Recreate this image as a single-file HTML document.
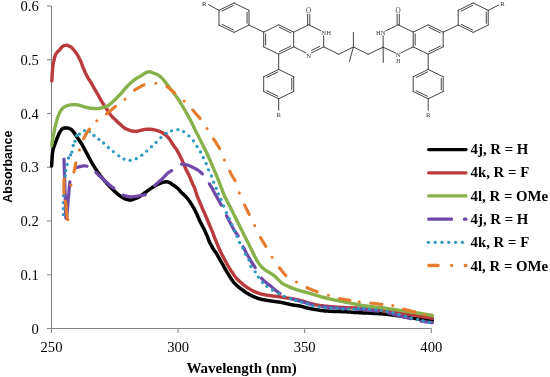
<!DOCTYPE html>
<html><head><meta charset="utf-8"><style>html,body{margin:0;padding:0;background:#fff;}svg{display:block;will-change:transform;}</style></head>
<body><svg width="550" height="377" viewBox="0 0 550 377"><g stroke="#868686" stroke-width="1.1"><line x1="51.5" y1="6" x2="51.5" y2="328.5"/><line x1="51.5" y1="328.5" x2="431.5" y2="328.5"/><line x1="47" y1="328.50" x2="51.5" y2="328.50"/><line x1="47" y1="274.75" x2="51.5" y2="274.75"/><line x1="47" y1="221.00" x2="51.5" y2="221.00"/><line x1="47" y1="167.25" x2="51.5" y2="167.25"/><line x1="47" y1="113.50" x2="51.5" y2="113.50"/><line x1="47" y1="59.75" x2="51.5" y2="59.75"/><line x1="47" y1="6.00" x2="51.5" y2="6.00"/><line x1="51.50" y1="328.5" x2="51.50" y2="333"/><line x1="178.10" y1="328.5" x2="178.10" y2="333"/><line x1="304.70" y1="328.5" x2="304.70" y2="333"/><line x1="431.30" y1="328.5" x2="431.30" y2="333"/></g><path d="M51.6,166.0 L51.6,165.3 L51.7,164.5 L51.8,163.5 L51.8,162.4 L51.9,161.2 L52.0,159.9 L52.0,158.6 L52.1,157.3 L52.2,156.1 L52.3,154.9 L52.4,153.9 L52.5,153.0 L52.6,152.3 L52.7,151.6 L52.8,151.0 L52.9,150.4 L53.0,150.0 L53.1,149.5 L53.3,149.1 L53.4,148.7 L53.5,148.3 L53.6,147.9 L53.8,147.4 L53.9,147.0 L54.0,146.5 L54.2,146.1 L54.3,145.7 L54.5,145.3 L54.6,144.9 L54.8,144.5 L54.9,144.1 L55.1,143.7 L55.2,143.3 L55.4,142.9 L55.5,142.4 L55.7,142.0 L55.9,141.6 L56.0,141.1 L56.2,140.6 L56.4,140.2 L56.6,139.7 L56.7,139.2 L56.9,138.7 L57.1,138.3 L57.3,137.8 L57.5,137.4 L57.6,136.9 L57.8,136.5 L58.0,136.1 L58.1,135.7 L58.3,135.3 L58.5,134.9 L58.6,134.6 L58.8,134.2 L59.0,133.8 L59.1,133.5 L59.3,133.2 L59.5,132.8 L59.6,132.5 L59.8,132.2 L60.0,131.9 L60.2,131.6 L60.3,131.3 L60.5,131.0 L60.7,130.7 L60.9,130.4 L61.1,130.2 L61.3,129.9 L61.4,129.7 L61.6,129.5 L61.8,129.3 L62.0,129.1 L62.2,128.9 L62.4,128.8 L62.5,128.7 L62.7,128.6 L62.9,128.5 L63.1,128.4 L63.3,128.4 L63.5,128.3 L63.6,128.2 L63.8,128.2 L64.0,128.1 L64.2,128.1 L64.4,128.1 L64.6,128.0 L64.8,128.0 L65.0,127.9 L65.1,127.9 L65.3,127.9 L65.5,127.9 L65.7,127.9 L65.9,127.9 L66.1,127.9 L66.3,127.9 L66.5,127.9 L66.7,127.9 L66.9,127.9 L67.1,128.0 L67.3,128.0 L67.5,128.0 L67.7,128.0 L67.9,128.1 L68.1,128.1 L68.3,128.2 L68.6,128.2 L68.8,128.3 L69.0,128.4 L69.2,128.5 L69.5,128.6 L69.7,128.7 L70.0,128.8 L70.2,128.9 L70.5,129.1 L70.7,129.2 L71.0,129.4 L71.2,129.5 L71.5,129.7 L71.7,129.8 L71.9,130.0 L72.1,130.2 L72.3,130.4 L72.5,130.6 L72.6,130.7 L72.8,131.0 L73.0,131.2 L73.1,131.4 L73.3,131.6 L73.4,131.8 L73.6,132.0 L73.7,132.3 L73.9,132.5 L74.1,132.7 L74.2,133.0 L74.4,133.2 L74.6,133.5 L74.8,133.7 L75.0,134.0 L75.1,134.2 L75.3,134.5 L75.5,134.7 L75.7,135.0 L75.8,135.3 L76.0,135.5 L76.2,135.7 L76.3,136.0 L76.5,136.2 L76.7,136.5 L76.8,136.7 L77.0,137.0 L77.1,137.2 L77.3,137.5 L77.4,137.7 L77.6,137.9 L77.7,138.2 L77.9,138.4 L78.1,138.6 L78.2,138.9 L78.4,139.1 L78.5,139.3 L78.7,139.5 L78.8,139.7 L79.0,139.9 L79.1,140.2 L79.3,140.4 L79.4,140.6 L79.6,140.8 L79.7,141.0 L79.8,141.2 L80.0,141.4 L80.1,141.6 L80.3,141.8 L80.4,142.0 L80.5,142.2 L80.7,142.3 L80.8,142.5 L81.0,142.7 L81.1,143.0 L81.3,143.2 L81.4,143.4 L81.5,143.6 L81.7,143.9 L81.8,144.2 L82.0,144.4 L82.1,144.7 L82.3,145.0 L82.5,145.3 L82.6,145.6 L82.8,145.9 L82.9,146.2 L83.1,146.4 L83.2,146.7 L83.3,147.0 L83.5,147.2 L83.6,147.5 L83.8,147.7 L83.9,148.0 L84.0,148.2 L84.2,148.5 L84.3,148.7 L84.5,149.0 L84.6,149.3 L84.7,149.5 L84.9,149.8 L85.1,150.1 L85.2,150.4 L85.4,150.7 L85.5,151.0 L85.7,151.3 L85.9,151.6 L86.1,151.9 L86.2,152.3 L86.4,152.6 L86.6,152.9 L86.7,153.2 L86.9,153.5 L87.1,153.8 L87.2,154.1 L87.4,154.4 L87.5,154.7 L87.7,155.0 L87.9,155.3 L88.0,155.6 L88.2,155.9 L88.3,156.2 L88.5,156.5 L88.6,156.8 L88.8,157.1 L89.0,157.4 L89.1,157.7 L89.3,158.0 L89.5,158.3 L89.6,158.6 L89.8,158.9 L90.0,159.2 L90.1,159.5 L90.3,159.8 L90.5,160.1 L90.6,160.4 L90.8,160.7 L91.0,161.0 L91.1,161.3 L91.3,161.6 L91.4,161.9 L91.6,162.2 L91.8,162.5 L91.9,162.8 L92.1,163.1 L92.2,163.3 L92.4,163.6 L92.5,163.9 L92.7,164.2 L92.9,164.5 L93.0,164.8 L93.2,165.0 L93.4,165.3 L93.5,165.6 L93.7,165.9 L93.9,166.1 L94.0,166.4 L94.2,166.7 L94.4,167.0 L94.5,167.2 L94.7,167.5 L94.9,167.8 L95.0,168.0 L95.2,168.3 L95.4,168.5 L95.5,168.8 L95.7,169.1 L95.8,169.3 L96.0,169.6 L96.2,169.8 L96.3,170.1 L96.5,170.3 L96.7,170.6 L96.9,170.9 L97.1,171.1 L97.2,171.4 L97.4,171.6 L97.6,171.9 L97.8,172.1 L98.0,172.4 L98.2,172.7 L98.4,172.9 L98.6,173.2 L98.8,173.5 L99.0,173.8 L99.2,174.1 L99.5,174.4 L99.7,174.7 L99.9,175.1 L100.2,175.4 L100.4,175.7 L100.7,176.1 L100.9,176.4 L101.2,176.8 L101.5,177.1 L101.7,177.5 L102.0,177.8 L102.3,178.1 L102.6,178.5 L102.9,178.8 L103.2,179.2 L103.5,179.5 L103.8,179.9 L104.1,180.2 L104.4,180.5 L104.7,180.9 L105.0,181.2 L105.2,181.5 L105.5,181.8 L105.8,182.1 L106.0,182.4 L106.3,182.6 L106.5,182.9 L106.7,183.2 L106.9,183.4 L107.2,183.7 L107.4,183.9 L107.6,184.2 L107.8,184.4 L108.1,184.7 L108.3,184.9 L108.5,185.1 L108.8,185.4 L109.0,185.6 L109.2,185.9 L109.4,186.1 L109.7,186.4 L109.9,186.6 L110.1,186.9 L110.3,187.1 L110.5,187.3 L110.8,187.6 L111.0,187.8 L111.2,188.0 L111.5,188.3 L111.7,188.5 L111.9,188.7 L112.2,188.9 L112.4,189.2 L112.6,189.4 L112.9,189.6 L113.1,189.8 L113.3,190.1 L113.6,190.3 L113.8,190.5 L114.0,190.7 L114.3,190.9 L114.5,191.2 L114.7,191.4 L114.9,191.6 L115.2,191.8 L115.4,192.0 L115.6,192.2 L115.8,192.4 L116.1,192.6 L116.3,192.8 L116.5,193.0 L116.7,193.2 L116.9,193.4 L117.1,193.5 L117.3,193.7 L117.6,193.9 L117.8,194.0 L118.0,194.2 L118.2,194.4 L118.4,194.5 L118.6,194.7 L118.8,194.8 L119.0,195.0 L119.2,195.2 L119.4,195.3 L119.6,195.5 L119.9,195.6 L120.1,195.8 L120.3,195.9 L120.5,196.1 L120.7,196.2 L120.9,196.4 L121.1,196.5 L121.3,196.7 L121.5,196.8 L121.7,196.9 L121.9,197.1 L122.0,197.2 L122.2,197.3 L122.4,197.4 L122.5,197.5 L122.7,197.6 L122.9,197.7 L123.0,197.8 L123.2,197.9 L123.3,198.0 L123.5,198.1 L123.7,198.2 L123.8,198.3 L124.0,198.4 L124.1,198.4 L124.3,198.5 L124.4,198.6 L124.6,198.7 L124.8,198.7 L124.9,198.8 L125.1,198.9 L125.3,198.9 L125.5,199.0 L125.7,199.1 L125.9,199.1 L126.2,199.2 L126.4,199.3 L126.7,199.4 L126.9,199.5 L127.2,199.5 L127.4,199.6 L127.7,199.7 L128.0,199.7 L128.2,199.8 L128.5,199.8 L128.8,199.8 L129.0,199.9 L129.3,199.9 L129.6,199.9 L129.9,199.9 L130.1,199.9 L130.4,199.9 L130.7,199.9 L131.0,199.9 L131.3,199.9 L131.5,199.8 L131.8,199.8 L132.1,199.7 L132.3,199.7 L132.6,199.6 L132.9,199.5 L133.1,199.4 L133.4,199.3 L133.7,199.2 L133.9,199.0 L134.2,198.9 L134.5,198.8 L134.7,198.7 L135.0,198.6 L135.3,198.5 L135.5,198.4 L135.8,198.3 L136.1,198.2 L136.3,198.2 L136.6,198.1 L136.9,198.0 L137.1,197.9 L137.4,197.8 L137.7,197.7 L137.9,197.5 L138.2,197.4 L138.5,197.3 L138.7,197.1 L139.0,196.9 L139.3,196.7 L139.6,196.6 L139.9,196.4 L140.1,196.2 L140.4,196.0 L140.7,195.8 L141.0,195.6 L141.2,195.4 L141.5,195.2 L141.8,195.0 L142.0,194.8 L142.3,194.7 L142.6,194.5 L142.8,194.3 L143.1,194.1 L143.3,193.9 L143.6,193.7 L143.8,193.5 L144.1,193.4 L144.3,193.2 L144.6,193.0 L144.8,192.8 L145.1,192.6 L145.3,192.5 L145.6,192.3 L145.8,192.1 L146.0,191.9 L146.3,191.7 L146.5,191.5 L146.7,191.4 L147.0,191.2 L147.2,191.0 L147.5,190.8 L147.8,190.6 L148.0,190.4 L148.3,190.2 L148.6,190.0 L148.9,189.8 L149.2,189.6 L149.5,189.4 L149.8,189.2 L150.1,189.0 L150.4,188.8 L150.6,188.6 L150.9,188.4 L151.2,188.2 L151.4,188.1 L151.6,187.9 L151.9,187.8 L152.1,187.6 L152.3,187.5 L152.6,187.3 L152.8,187.2 L153.0,187.0 L153.3,186.9 L153.5,186.8 L153.8,186.6 L154.1,186.4 L154.4,186.3 L154.6,186.1 L154.9,185.9 L155.2,185.8 L155.5,185.6 L155.8,185.4 L156.1,185.2 L156.4,185.1 L156.7,184.9 L157.0,184.7 L157.3,184.6 L157.6,184.5 L157.9,184.3 L158.1,184.2 L158.4,184.1 L158.7,184.0 L158.9,183.8 L159.2,183.7 L159.4,183.6 L159.7,183.5 L160.0,183.4 L160.2,183.3 L160.5,183.2 L160.8,183.1 L161.0,183.0 L161.3,182.9 L161.6,182.8 L161.8,182.7 L162.1,182.6 L162.4,182.6 L162.6,182.5 L162.9,182.4 L163.2,182.3 L163.4,182.3 L163.7,182.2 L164.0,182.1 L164.2,182.1 L164.5,182.0 L164.8,182.0 L165.1,181.9 L165.4,181.9 L165.6,181.8 L165.9,181.8 L166.2,181.8 L166.5,181.8 L166.7,181.8 L167.0,181.8 L167.3,181.8 L167.5,181.9 L167.8,181.9 L168.0,182.0 L168.3,182.1 L168.6,182.2 L168.8,182.3 L169.0,182.4 L169.3,182.5 L169.5,182.6 L169.8,182.7 L170.0,182.8 L170.2,182.9 L170.4,183.1 L170.7,183.2 L170.9,183.3 L171.1,183.5 L171.3,183.7 L171.5,183.8 L171.7,184.0 L171.9,184.1 L172.1,184.3 L172.3,184.4 L172.5,184.6 L172.7,184.7 L172.9,184.9 L173.1,185.0 L173.4,185.2 L173.6,185.3 L173.8,185.4 L174.0,185.6 L174.3,185.7 L174.5,185.9 L174.7,186.0 L175.0,186.2 L175.2,186.4 L175.4,186.6 L175.7,186.8 L176.0,187.0 L176.2,187.2 L176.5,187.4 L176.8,187.6 L177.0,187.9 L177.3,188.1 L177.6,188.3 L177.9,188.6 L178.1,188.8 L178.4,189.1 L178.7,189.4 L178.9,189.6 L179.2,189.9 L179.4,190.2 L179.7,190.5 L179.9,190.8 L180.2,191.1 L180.5,191.4 L180.7,191.7 L181.0,192.0 L181.2,192.3 L181.5,192.6 L181.8,192.9 L182.0,193.1 L182.3,193.4 L182.6,193.6 L182.8,193.8 L183.1,194.1 L183.4,194.3 L183.7,194.5 L183.9,194.8 L184.2,195.0 L184.4,195.3 L184.7,195.5 L184.9,195.7 L185.2,196.0 L185.4,196.2 L185.7,196.5 L185.9,196.7 L186.1,196.9 L186.4,197.2 L186.6,197.4 L186.8,197.7 L187.0,197.9 L187.3,198.2 L187.5,198.5 L187.7,198.8 L188.0,199.1 L188.2,199.4 L188.4,199.6 L188.6,199.9 L188.8,200.2 L189.1,200.6 L189.3,200.9 L189.5,201.2 L189.8,201.6 L190.0,202.0 L190.3,202.4 L190.6,202.8 L190.9,203.3 L191.2,203.8 L191.5,204.3 L191.8,204.8 L192.2,205.4 L192.5,205.9 L192.8,206.5 L193.2,207.1 L193.5,207.6 L193.8,208.2 L194.1,208.7 L194.4,209.2 L194.7,209.8 L195.0,210.3 L195.2,210.9 L195.5,211.4 L195.8,212.0 L196.1,212.5 L196.3,213.1 L196.6,213.6 L196.8,214.1 L197.1,214.6 L197.3,215.1 L197.5,215.6 L197.7,216.0 L197.9,216.5 L198.1,217.0 L198.3,217.4 L198.5,217.8 L198.6,218.3 L198.8,218.7 L199.0,219.1 L199.1,219.5 L199.3,219.9 L199.5,220.3 L199.7,220.7 L199.9,221.1 L200.0,221.4 L200.2,221.8 L200.4,222.1 L200.6,222.4 L200.7,222.8 L200.9,223.1 L201.1,223.5 L201.3,223.8 L201.5,224.2 L201.7,224.6 L201.9,225.0 L202.1,225.5 L202.4,225.9 L202.6,226.3 L202.9,226.8 L203.1,227.3 L203.4,227.8 L203.6,228.2 L203.9,228.7 L204.1,229.2 L204.4,229.7 L204.6,230.2 L204.8,230.7 L205.1,231.2 L205.3,231.7 L205.5,232.2 L205.8,232.8 L206.0,233.3 L206.2,233.8 L206.4,234.4 L206.7,234.9 L206.9,235.4 L207.1,235.9 L207.3,236.4 L207.5,236.9 L207.7,237.4 L207.9,237.8 L208.0,238.3 L208.2,238.7 L208.4,239.2 L208.5,239.6 L208.7,240.1 L208.9,240.6 L209.1,241.0 L209.3,241.5 L209.5,242.0 L209.7,242.5 L210.0,243.1 L210.3,243.6 L210.6,244.2 L210.9,244.7 L211.2,245.3 L211.5,245.9 L211.8,246.4 L212.1,247.0 L212.4,247.5 L212.7,248.0 L213.0,248.5 L213.3,249.0 L213.6,249.4 L213.8,249.8 L214.1,250.2 L214.4,250.6 L214.7,251.0 L214.9,251.3 L215.2,251.7 L215.5,252.1 L215.8,252.5 L216.0,252.9 L216.3,253.3 L216.6,253.7 L216.9,254.2 L217.1,254.7 L217.4,255.2 L217.7,255.6 L218.0,256.1 L218.2,256.6 L218.5,257.1 L218.8,257.6 L219.1,258.1 L219.3,258.5 L219.6,259.0 L219.9,259.5 L220.1,259.9 L220.4,260.3 L220.6,260.8 L220.9,261.2 L221.1,261.6 L221.4,262.1 L221.6,262.5 L221.9,262.9 L222.1,263.3 L222.4,263.8 L222.6,264.2 L222.8,264.6 L223.1,265.1 L223.3,265.5 L223.5,265.9 L223.8,266.4 L224.0,266.8 L224.2,267.3 L224.5,267.7 L224.7,268.1 L224.9,268.6 L225.2,269.0 L225.4,269.4 L225.6,269.8 L225.9,270.2 L226.1,270.6 L226.4,271.0 L226.6,271.4 L226.8,271.8 L227.1,272.2 L227.3,272.6 L227.6,273.0 L227.8,273.4 L228.1,273.8 L228.3,274.2 L228.5,274.6 L228.8,275.0 L229.0,275.4 L229.3,275.8 L229.5,276.2 L229.8,276.6 L230.0,277.0 L230.3,277.4 L230.5,277.8 L230.8,278.2 L231.0,278.6 L231.3,279.0 L231.6,279.4 L231.8,279.7 L232.1,280.1 L232.3,280.5 L232.6,280.8 L232.9,281.2 L233.1,281.5 L233.4,281.9 L233.7,282.2 L233.9,282.5 L234.2,282.9 L234.5,283.2 L234.8,283.5 L235.1,283.8 L235.4,284.1 L235.7,284.4 L236.0,284.7 L236.3,285.0 L236.6,285.3 L236.9,285.6 L237.2,285.9 L237.5,286.1 L237.9,286.4 L238.2,286.7 L238.5,287.0 L238.9,287.3 L239.2,287.5 L239.6,287.8 L240.0,288.1 L240.3,288.4 L240.7,288.7 L241.1,288.9 L241.4,289.2 L241.8,289.5 L242.1,289.7 L242.5,290.0 L242.9,290.3 L243.2,290.5 L243.6,290.8 L243.9,291.0 L244.3,291.3 L244.6,291.6 L244.9,291.8 L245.3,292.1 L245.6,292.3 L246.0,292.5 L246.3,292.8 L246.7,293.0 L247.1,293.2 L247.4,293.4 L247.8,293.6 L248.1,293.8 L248.5,294.0 L248.8,294.2 L249.2,294.4 L249.6,294.6 L249.9,294.8 L250.3,294.9 L250.6,295.1 L251.0,295.3 L251.4,295.5 L251.7,295.7 L252.1,295.8 L252.4,296.0 L252.8,296.2 L253.1,296.4 L253.4,296.5 L253.8,296.7 L254.1,296.8 L254.5,297.0 L254.8,297.2 L255.2,297.3 L255.6,297.4 L255.9,297.6 L256.3,297.7 L256.6,297.9 L257.0,298.0 L257.4,298.1 L257.7,298.2 L258.1,298.4 L258.4,298.5 L258.8,298.6 L259.1,298.7 L259.5,298.8 L259.9,298.9 L260.2,299.0 L260.6,299.1 L260.9,299.2 L261.3,299.3 L261.6,299.4 L261.9,299.4 L262.3,299.5 L262.6,299.6 L263.0,299.7 L263.3,299.7 L263.7,299.8 L264.1,299.9 L264.4,299.9 L264.8,300.0 L265.1,300.1 L265.5,300.1 L265.9,300.2 L266.2,300.2 L266.6,300.3 L266.9,300.3 L267.3,300.4 L267.6,300.4 L268.0,300.5 L268.3,300.6 L268.6,300.6 L268.9,300.6 L269.2,300.7 L269.5,300.7 L269.8,300.8 L270.1,300.8 L270.4,300.9 L270.8,300.9 L271.2,301.0 L271.6,301.0 L272.1,301.1 L272.7,301.2 L273.3,301.3 L274.0,301.4 L274.7,301.5 L275.5,301.6 L276.3,301.7 L277.1,301.8 L277.8,301.9 L278.6,302.0 L279.3,302.1 L280.0,302.2 L280.6,302.3 L281.2,302.4 L281.7,302.5 L282.2,302.6 L282.6,302.7 L283.1,302.8 L283.5,302.9 L283.9,303.0 L284.3,303.1 L284.7,303.2 L285.1,303.3 L285.6,303.4 L286.0,303.5 L286.4,303.6 L286.9,303.7 L287.3,303.8 L287.8,303.9 L288.2,304.0 L288.6,304.1 L289.1,304.2 L289.5,304.3 L289.9,304.4 L290.4,304.5 L290.8,304.6 L291.2,304.7 L291.6,304.8 L292.0,304.9 L292.4,304.9 L292.9,305.0 L293.3,305.1 L293.7,305.1 L294.1,305.2 L294.5,305.3 L294.9,305.3 L295.3,305.4 L295.6,305.4 L296.0,305.5 L296.3,305.5 L296.7,305.6 L297.0,305.6 L297.2,305.6 L297.5,305.6 L297.8,305.7 L298.1,305.7 L298.4,305.7 L298.7,305.8 L299.1,305.8 L299.5,305.9 L300.0,306.0 L300.5,306.1 L301.1,306.3 L301.8,306.4 L302.4,306.6 L303.1,306.8 L303.9,307.0 L304.6,307.3 L305.3,307.5 L306.1,307.7 L306.8,307.9 L307.5,308.0 L308.2,308.2 L308.9,308.3 L309.5,308.5 L310.2,308.6 L310.8,308.7 L311.4,308.9 L312.1,309.0 L312.7,309.1 L313.3,309.2 L314.0,309.3 L314.6,309.4 L315.2,309.5 L315.9,309.6 L316.6,309.7 L317.2,309.8 L317.9,309.9 L318.5,310.0 L319.2,310.1 L319.9,310.3 L320.6,310.4 L321.2,310.5 L321.9,310.6 L322.6,310.6 L323.2,310.7 L323.9,310.8 L324.6,310.9 L325.2,310.9 L325.9,311.0 L326.5,311.0 L327.2,311.1 L327.8,311.1 L328.5,311.1 L329.2,311.2 L329.8,311.2 L330.5,311.2 L331.1,311.3 L331.8,311.3 L332.5,311.3 L333.1,311.4 L333.8,311.4 L334.5,311.4 L335.1,311.4 L335.8,311.5 L336.5,311.5 L337.1,311.5 L337.8,311.5 L338.5,311.6 L339.1,311.6 L339.8,311.6 L340.5,311.6 L341.1,311.6 L341.8,311.7 L342.4,311.7 L343.1,311.7 L343.8,311.7 L344.4,311.8 L345.1,311.8 L345.7,311.8 L346.4,311.8 L347.0,311.9 L347.7,311.9 L348.4,311.9 L349.0,312.0 L349.7,312.0 L350.4,312.1 L351.0,312.1 L351.7,312.2 L352.4,312.2 L353.0,312.3 L353.7,312.4 L354.4,312.4 L355.0,312.5 L355.7,312.5 L356.4,312.5 L357.0,312.6 L357.7,312.6 L358.3,312.6 L359.0,312.7 L359.7,312.7 L360.3,312.7 L361.0,312.8 L361.6,312.8 L362.3,312.8 L362.9,312.9 L363.6,312.9 L364.3,312.9 L364.9,313.0 L365.5,313.0 L366.1,313.0 L366.7,313.1 L367.4,313.1 L368.0,313.1 L368.7,313.1 L369.3,313.2 L370.1,313.2 L370.8,313.3 L371.6,313.3 L372.4,313.3 L373.3,313.4 L374.2,313.4 L375.2,313.5 L376.1,313.5 L377.1,313.6 L378.1,313.6 L379.2,313.7 L380.2,313.8 L381.2,313.8 L382.3,313.9 L383.3,314.0 L384.3,314.1 L385.4,314.2 L386.5,314.3 L387.6,314.4 L388.7,314.5 L389.8,314.7 L390.9,314.8 L392.0,314.9 L393.2,315.1 L394.3,315.2 L395.4,315.4 L396.5,315.5 L397.6,315.7 L398.7,315.8 L399.8,316.0 L400.9,316.2 L402.0,316.3 L403.2,316.5 L404.3,316.7 L405.4,316.9 L406.5,317.1 L407.6,317.2 L408.7,317.4 L409.8,317.6 L410.9,317.8 L412.1,318.0 L413.2,318.1 L414.4,318.3 L415.5,318.5 L416.6,318.7 L417.8,318.9 L418.9,319.0 L420.0,319.2 L421.0,319.3 L422.0,319.5 L423.0,319.6 L423.9,319.7 L424.9,319.8 L425.8,319.9 L426.7,320.0 L427.6,320.1 L428.5,320.1 L429.3,320.2 L430.0,320.2 L430.7,320.3 L431.3,320.3 L431.9,320.4 L432.3,320.4" fill="none" stroke="#000" stroke-width="3.5" stroke-linecap="round" stroke-linejoin="round"/><path d="M51.8,81.0 L51.8,80.5 L51.9,79.8 L51.9,78.9 L52.0,78.0 L52.0,77.0 L52.1,75.9 L52.2,74.8 L52.2,73.7 L52.3,72.7 L52.4,71.7 L52.4,70.8 L52.5,70.0 L52.6,69.3 L52.6,68.6 L52.7,68.0 L52.7,67.5 L52.8,66.9 L52.9,66.4 L52.9,65.9 L53.0,65.4 L53.1,64.9 L53.1,64.5 L53.2,64.0 L53.3,63.5 L53.4,63.0 L53.5,62.5 L53.6,62.0 L53.7,61.5 L53.8,61.0 L53.9,60.6 L54.0,60.1 L54.1,59.7 L54.2,59.2 L54.3,58.8 L54.4,58.4 L54.5,58.0 L54.6,57.6 L54.7,57.3 L54.8,56.9 L54.9,56.6 L55.0,56.3 L55.1,56.0 L55.2,55.7 L55.2,55.5 L55.4,55.2 L55.5,54.9 L55.6,54.7 L55.7,54.4 L55.8,54.1 L56.0,53.9 L56.1,53.6 L56.3,53.4 L56.4,53.1 L56.6,52.9 L56.8,52.6 L56.9,52.4 L57.1,52.2 L57.3,52.0 L57.4,51.8 L57.6,51.6 L57.8,51.4 L57.9,51.3 L58.1,51.1 L58.3,51.0 L58.4,50.9 L58.6,50.8 L58.8,50.6 L59.0,50.5 L59.1,50.4 L59.3,50.3 L59.4,50.2 L59.6,50.0 L59.7,49.8 L59.9,49.7 L60.0,49.5 L60.1,49.3 L60.3,49.1 L60.4,48.9 L60.5,48.7 L60.6,48.5 L60.8,48.3 L60.9,48.2 L61.0,48.0 L61.2,47.8 L61.4,47.6 L61.5,47.5 L61.7,47.3 L61.9,47.1 L62.0,46.9 L62.2,46.7 L62.4,46.6 L62.6,46.4 L62.8,46.3 L63.0,46.1 L63.2,46.0 L63.4,45.9 L63.6,45.8 L63.9,45.7 L64.1,45.6 L64.4,45.6 L64.7,45.5 L65.0,45.4 L65.3,45.4 L65.5,45.4 L65.8,45.3 L66.1,45.3 L66.4,45.3 L66.6,45.3 L66.8,45.3 L67.1,45.3 L67.3,45.4 L67.5,45.4 L67.7,45.5 L67.9,45.5 L68.1,45.6 L68.3,45.7 L68.5,45.7 L68.7,45.8 L68.9,45.9 L69.1,46.0 L69.3,46.1 L69.5,46.2 L69.7,46.3 L70.0,46.4 L70.2,46.5 L70.4,46.7 L70.6,46.8 L70.8,46.9 L71.1,47.1 L71.3,47.3 L71.5,47.4 L71.7,47.6 L71.9,47.8 L72.1,48.0 L72.3,48.2 L72.5,48.4 L72.7,48.6 L73.0,48.9 L73.2,49.1 L73.4,49.4 L73.6,49.6 L73.8,49.9 L74.0,50.1 L74.2,50.4 L74.4,50.7 L74.6,50.9 L74.8,51.2 L75.1,51.5 L75.3,51.8 L75.5,52.0 L75.7,52.3 L75.9,52.6 L76.2,52.9 L76.4,53.3 L76.6,53.6 L76.8,53.9 L77.0,54.2 L77.2,54.6 L77.4,55.0 L77.7,55.3 L77.9,55.7 L78.1,56.1 L78.3,56.5 L78.5,56.9 L78.7,57.3 L78.9,57.7 L79.1,58.0 L79.3,58.4 L79.5,58.8 L79.7,59.1 L79.8,59.4 L80.0,59.8 L80.2,60.1 L80.3,60.4 L80.5,60.7 L80.6,61.1 L80.8,61.4 L81.0,61.8 L81.1,62.2 L81.3,62.6 L81.5,63.0 L81.6,63.5 L81.8,63.9 L82.0,64.4 L82.1,64.8 L82.3,65.3 L82.5,65.8 L82.6,66.3 L82.8,66.8 L83.0,67.4 L83.3,67.9 L83.5,68.5 L83.8,69.1 L84.1,69.8 L84.4,70.5 L84.7,71.2 L85.0,72.0 L85.4,72.7 L85.7,73.4 L86.1,74.2 L86.4,74.9 L86.7,75.5 L87.0,76.1 L87.3,76.7 L87.6,77.2 L87.8,77.6 L88.1,78.0 L88.3,78.4 L88.5,78.8 L88.7,79.1 L88.9,79.4 L89.1,79.7 L89.4,80.0 L89.6,80.3 L89.8,80.6 L90.0,81.0 L90.2,81.4 L90.4,81.7 L90.7,82.1 L90.9,82.5 L91.1,82.9 L91.3,83.2 L91.5,83.6 L91.7,84.0 L91.9,84.4 L92.2,84.7 L92.4,85.1 L92.6,85.5 L92.8,85.9 L93.0,86.3 L93.3,86.7 L93.5,87.0 L93.7,87.4 L93.9,87.8 L94.2,88.2 L94.4,88.6 L94.6,89.0 L94.8,89.4 L95.1,89.8 L95.3,90.2 L95.5,90.6 L95.8,91.0 L96.0,91.4 L96.3,91.8 L96.5,92.2 L96.8,92.6 L97.0,93.0 L97.3,93.4 L97.5,93.8 L97.7,94.2 L98.0,94.6 L98.2,95.0 L98.4,95.4 L98.6,95.8 L98.8,96.2 L99.0,96.6 L99.2,97.0 L99.4,97.4 L99.6,97.8 L99.8,98.2 L100.0,98.6 L100.2,99.0 L100.4,99.3 L100.6,99.7 L100.8,100.0 L101.0,100.4 L101.2,100.7 L101.4,101.0 L101.6,101.3 L101.8,101.6 L102.0,101.9 L102.2,102.3 L102.4,102.6 L102.6,102.9 L102.8,103.2 L103.0,103.5 L103.2,103.8 L103.4,104.2 L103.6,104.5 L103.8,104.8 L104.0,105.2 L104.2,105.5 L104.5,105.9 L104.7,106.2 L104.9,106.5 L105.1,106.9 L105.3,107.2 L105.5,107.5 L105.7,107.8 L105.9,108.1 L106.1,108.4 L106.3,108.7 L106.5,108.9 L106.7,109.2 L106.9,109.5 L107.1,109.8 L107.3,110.1 L107.5,110.4 L107.8,110.7 L108.0,111.0 L108.2,111.3 L108.5,111.7 L108.7,112.1 L109.0,112.5 L109.3,112.9 L109.6,113.3 L109.8,113.7 L110.1,114.1 L110.4,114.5 L110.7,114.9 L110.9,115.3 L111.2,115.6 L111.5,115.9 L111.7,116.2 L112.0,116.5 L112.3,116.8 L112.6,117.1 L112.9,117.4 L113.1,117.7 L113.4,117.9 L113.7,118.2 L114.0,118.5 L114.2,118.7 L114.5,119.0 L114.8,119.3 L115.0,119.5 L115.3,119.8 L115.5,120.0 L115.8,120.3 L116.0,120.5 L116.3,120.8 L116.6,121.0 L116.8,121.3 L117.1,121.5 L117.3,121.8 L117.6,122.0 L117.9,122.3 L118.2,122.5 L118.4,122.8 L118.7,123.0 L119.0,123.3 L119.3,123.5 L119.6,123.8 L119.9,124.0 L120.2,124.3 L120.5,124.5 L120.7,124.8 L121.0,125.0 L121.3,125.2 L121.5,125.5 L121.8,125.7 L122.0,126.0 L122.3,126.2 L122.5,126.4 L122.8,126.7 L123.0,126.9 L123.3,127.1 L123.5,127.3 L123.8,127.5 L124.0,127.7 L124.2,127.9 L124.5,128.0 L124.7,128.2 L125.0,128.3 L125.2,128.5 L125.5,128.6 L125.7,128.7 L126.0,128.8 L126.2,129.0 L126.5,129.1 L126.7,129.2 L127.0,129.3 L127.3,129.4 L127.5,129.5 L127.8,129.6 L128.1,129.7 L128.4,129.9 L128.6,130.0 L128.9,130.1 L129.2,130.2 L129.5,130.2 L129.8,130.3 L130.0,130.4 L130.3,130.5 L130.6,130.6 L130.8,130.7 L131.1,130.7 L131.4,130.8 L131.6,130.9 L131.9,130.9 L132.2,131.0 L132.4,131.0 L132.7,131.1 L133.0,131.1 L133.2,131.2 L133.5,131.2 L133.8,131.2 L134.0,131.3 L134.3,131.3 L134.6,131.3 L134.8,131.3 L135.1,131.3 L135.4,131.4 L135.6,131.4 L135.9,131.4 L136.2,131.3 L136.4,131.3 L136.7,131.3 L137.0,131.3 L137.2,131.2 L137.5,131.2 L137.8,131.1 L138.1,131.0 L138.4,130.9 L138.6,130.9 L138.9,130.8 L139.2,130.7 L139.5,130.6 L139.7,130.6 L140.0,130.5 L140.3,130.4 L140.5,130.4 L140.8,130.3 L141.0,130.3 L141.3,130.2 L141.5,130.1 L141.8,130.1 L142.0,130.0 L142.3,130.0 L142.5,129.9 L142.8,129.9 L143.0,129.8 L143.2,129.8 L143.5,129.7 L143.7,129.7 L144.0,129.6 L144.2,129.6 L144.5,129.5 L144.7,129.5 L145.0,129.4 L145.2,129.4 L145.5,129.4 L145.7,129.3 L146.0,129.3 L146.3,129.3 L146.5,129.3 L146.8,129.2 L147.1,129.2 L147.4,129.2 L147.7,129.2 L148.0,129.2 L148.3,129.2 L148.6,129.2 L148.8,129.2 L149.1,129.2 L149.4,129.2 L149.7,129.2 L149.9,129.2 L150.2,129.2 L150.4,129.3 L150.7,129.3 L151.0,129.3 L151.2,129.3 L151.5,129.4 L151.7,129.4 L152.0,129.4 L152.2,129.5 L152.5,129.5 L152.8,129.5 L153.0,129.6 L153.3,129.6 L153.6,129.7 L153.9,129.7 L154.1,129.8 L154.4,129.9 L154.7,129.9 L155.0,130.0 L155.3,130.1 L155.5,130.1 L155.8,130.2 L156.1,130.3 L156.3,130.3 L156.6,130.4 L156.9,130.5 L157.2,130.6 L157.4,130.7 L157.7,130.7 L158.0,130.8 L158.2,130.9 L158.5,131.0 L158.7,131.1 L159.0,131.2 L159.3,131.3 L159.5,131.4 L159.8,131.5 L160.0,131.6 L160.3,131.7 L160.5,131.8 L160.8,132.0 L161.0,132.1 L161.3,132.2 L161.5,132.3 L161.8,132.5 L162.0,132.6 L162.3,132.7 L162.5,132.9 L162.8,133.0 L163.0,133.2 L163.3,133.3 L163.5,133.5 L163.8,133.7 L164.0,133.8 L164.3,134.0 L164.5,134.2 L164.8,134.3 L165.0,134.5 L165.2,134.7 L165.5,134.9 L165.7,135.0 L165.9,135.2 L166.1,135.4 L166.3,135.6 L166.5,135.8 L166.7,136.0 L166.9,136.2 L167.1,136.4 L167.3,136.6 L167.5,136.8 L167.7,137.0 L167.9,137.2 L168.0,137.3 L168.2,137.5 L168.3,137.7 L168.5,137.9 L168.7,138.0 L168.8,138.2 L169.0,138.4 L169.1,138.6 L169.3,138.9 L169.5,139.1 L169.7,139.4 L169.9,139.6 L170.1,139.9 L170.3,140.3 L170.5,140.6 L170.7,140.9 L170.9,141.2 L171.1,141.6 L171.3,141.9 L171.5,142.2 L171.7,142.6 L171.9,142.9 L172.1,143.2 L172.3,143.5 L172.5,143.9 L172.7,144.2 L172.9,144.5 L173.2,144.8 L173.4,145.2 L173.6,145.5 L173.8,145.8 L174.0,146.1 L174.2,146.4 L174.4,146.7 L174.6,147.0 L174.8,147.3 L175.0,147.5 L175.2,147.8 L175.4,148.1 L175.7,148.3 L175.9,148.6 L176.1,148.9 L176.3,149.1 L176.4,149.4 L176.6,149.6 L176.8,149.9 L177.0,150.2 L177.1,150.4 L177.3,150.7 L177.4,150.9 L177.5,151.2 L177.7,151.5 L177.8,151.7 L177.9,152.0 L178.1,152.3 L178.2,152.5 L178.4,152.8 L178.5,153.1 L178.7,153.4 L178.8,153.7 L179.0,154.0 L179.2,154.3 L179.3,154.7 L179.5,155.0 L179.7,155.3 L179.9,155.7 L180.0,156.0 L180.2,156.3 L180.3,156.6 L180.5,156.9 L180.6,157.2 L180.8,157.4 L180.9,157.7 L181.0,157.9 L181.1,158.2 L181.2,158.4 L181.4,158.7 L181.5,158.9 L181.6,159.2 L181.7,159.5 L181.9,159.8 L182.0,160.1 L182.2,160.5 L182.3,160.8 L182.5,161.2 L182.7,161.7 L182.9,162.1 L183.1,162.5 L183.2,163.0 L183.4,163.4 L183.6,163.9 L183.8,164.3 L184.0,164.8 L184.2,165.2 L184.4,165.6 L184.6,166.1 L184.8,166.5 L184.9,166.9 L185.1,167.4 L185.3,167.8 L185.5,168.3 L185.7,168.7 L185.9,169.1 L186.0,169.5 L186.2,169.9 L186.4,170.3 L186.6,170.7 L186.8,171.0 L186.9,171.3 L187.1,171.7 L187.3,172.0 L187.5,172.3 L187.7,172.6 L187.8,172.9 L188.0,173.2 L188.2,173.5 L188.3,173.8 L188.5,174.1 L188.7,174.4 L188.8,174.7 L188.9,175.0 L189.1,175.4 L189.2,175.7 L189.3,176.0 L189.5,176.3 L189.6,176.6 L189.8,176.9 L189.9,177.3 L190.0,177.6 L190.2,178.0 L190.4,178.4 L190.5,178.8 L190.7,179.2 L190.9,179.6 L191.1,180.0 L191.2,180.5 L191.4,180.9 L191.6,181.3 L191.8,181.8 L192.0,182.2 L192.1,182.6 L192.3,183.0 L192.5,183.4 L192.6,183.8 L192.8,184.2 L193.0,184.6 L193.2,185.0 L193.4,185.4 L193.5,185.8 L193.7,186.1 L193.9,186.5 L194.0,186.8 L194.2,187.2 L194.3,187.5 L194.4,187.8 L194.5,188.1 L194.6,188.3 L194.7,188.5 L194.8,188.8 L194.9,189.0 L195.0,189.2 L195.1,189.4 L195.2,189.6 L195.3,189.9 L195.4,190.2 L195.5,190.5 L195.6,190.8 L195.7,191.2 L195.8,191.6 L195.9,192.0 L196.1,192.4 L196.2,192.8 L196.3,193.2 L196.4,193.7 L196.5,194.1 L196.7,194.6 L196.8,195.0 L197.0,195.5 L197.2,196.0 L197.4,196.4 L197.6,196.9 L197.8,197.4 L198.0,197.9 L198.2,198.4 L198.4,198.9 L198.6,199.5 L198.9,200.0 L199.1,200.5 L199.3,201.0 L199.5,201.5 L199.7,202.0 L199.9,202.5 L200.1,203.0 L200.3,203.5 L200.5,204.0 L200.8,204.5 L201.0,205.0 L201.2,205.5 L201.4,206.0 L201.6,206.5 L201.8,207.0 L202.0,207.5 L202.2,208.0 L202.4,208.5 L202.6,208.9 L202.8,209.4 L203.0,209.9 L203.2,210.4 L203.5,210.8 L203.7,211.3 L203.9,211.8 L204.1,212.2 L204.3,212.7 L204.5,213.2 L204.7,213.7 L204.9,214.2 L205.1,214.6 L205.3,215.1 L205.5,215.6 L205.8,216.1 L206.0,216.6 L206.2,217.0 L206.4,217.5 L206.6,218.0 L206.8,218.5 L207.0,219.0 L207.2,219.5 L207.4,220.0 L207.6,220.5 L207.8,221.0 L208.0,221.5 L208.2,222.0 L208.4,222.5 L208.7,223.0 L208.9,223.5 L209.1,224.0 L209.3,224.5 L209.5,225.0 L209.7,225.5 L209.9,226.0 L210.2,226.5 L210.4,227.0 L210.6,227.5 L210.8,228.0 L211.1,228.5 L211.3,229.0 L211.5,229.6 L211.7,230.1 L212.0,230.6 L212.2,231.2 L212.4,231.8 L212.7,232.4 L212.9,233.0 L213.1,233.6 L213.4,234.3 L213.6,234.9 L213.8,235.6 L214.0,236.2 L214.3,236.8 L214.5,237.4 L214.7,238.0 L214.9,238.5 L215.1,239.0 L215.3,239.5 L215.5,239.9 L215.6,240.3 L215.8,240.7 L216.0,241.1 L216.2,241.5 L216.3,241.9 L216.5,242.3 L216.7,242.7 L216.8,243.1 L217.0,243.5 L217.2,243.9 L217.3,244.3 L217.5,244.7 L217.7,245.1 L217.8,245.6 L218.0,246.0 L218.2,246.4 L218.4,246.8 L218.5,247.2 L218.7,247.6 L218.9,248.1 L219.1,248.5 L219.3,248.9 L219.5,249.4 L219.7,249.8 L219.9,250.3 L220.1,250.8 L220.4,251.2 L220.6,251.7 L220.8,252.2 L221.0,252.6 L221.3,253.1 L221.5,253.6 L221.7,254.0 L221.9,254.4 L222.1,254.9 L222.4,255.3 L222.6,255.7 L222.8,256.2 L223.1,256.6 L223.3,257.0 L223.5,257.4 L223.7,257.8 L224.0,258.3 L224.2,258.7 L224.4,259.1 L224.6,259.5 L224.8,259.9 L225.1,260.3 L225.3,260.8 L225.5,261.2 L225.7,261.6 L225.9,262.0 L226.1,262.4 L226.3,262.8 L226.6,263.2 L226.8,263.6 L227.0,264.0 L227.2,264.4 L227.4,264.8 L227.7,265.2 L227.9,265.5 L228.1,265.9 L228.3,266.3 L228.5,266.7 L228.8,267.0 L229.0,267.4 L229.2,267.8 L229.5,268.2 L229.7,268.6 L230.0,269.0 L230.2,269.4 L230.5,269.8 L230.8,270.3 L231.0,270.7 L231.3,271.1 L231.6,271.5 L231.9,272.0 L232.2,272.4 L232.5,272.8 L232.7,273.2 L233.0,273.6 L233.3,274.0 L233.5,274.4 L233.8,274.8 L234.0,275.1 L234.3,275.5 L234.5,275.9 L234.7,276.2 L235.0,276.6 L235.3,276.9 L235.5,277.3 L235.8,277.6 L236.1,278.0 L236.4,278.3 L236.7,278.7 L237.1,279.0 L237.4,279.4 L237.8,279.7 L238.1,280.0 L238.5,280.4 L238.9,280.7 L239.2,281.0 L239.6,281.4 L239.9,281.7 L240.3,282.0 L240.7,282.3 L241.0,282.6 L241.4,282.9 L241.7,283.3 L242.1,283.6 L242.4,283.9 L242.8,284.2 L243.2,284.5 L243.5,284.8 L243.9,285.0 L244.2,285.3 L244.6,285.6 L245.0,285.9 L245.3,286.1 L245.7,286.4 L246.1,286.6 L246.4,286.9 L246.8,287.1 L247.2,287.4 L247.6,287.6 L247.9,287.8 L248.3,288.1 L248.6,288.3 L249.0,288.5 L249.3,288.7 L249.7,288.9 L250.0,289.1 L250.4,289.4 L250.7,289.6 L251.0,289.8 L251.3,290.0 L251.7,290.2 L252.0,290.4 L252.3,290.5 L252.7,290.7 L253.0,290.9 L253.3,291.1 L253.7,291.2 L254.1,291.4 L254.4,291.6 L254.8,291.7 L255.1,291.9 L255.5,292.0 L255.9,292.2 L256.2,292.3 L256.6,292.4 L256.9,292.6 L257.3,292.7 L257.7,292.8 L258.0,293.0 L258.4,293.1 L258.7,293.2 L259.0,293.3 L259.4,293.5 L259.7,293.6 L260.1,293.7 L260.4,293.8 L260.8,293.9 L261.1,294.0 L261.5,294.1 L261.9,294.2 L262.2,294.3 L262.6,294.4 L263.0,294.4 L263.4,294.5 L263.8,294.6 L264.1,294.7 L264.5,294.7 L264.9,294.8 L265.3,294.9 L265.6,294.9 L266.0,295.0 L266.3,295.1 L266.7,295.1 L267.0,295.2 L267.3,295.3 L267.7,295.3 L268.0,295.4 L268.3,295.4 L268.6,295.5 L268.9,295.5 L269.3,295.6 L269.6,295.6 L270.0,295.7 L270.4,295.7 L270.8,295.8 L271.2,295.8 L271.6,295.9 L272.0,295.9 L272.4,295.9 L272.8,296.0 L273.3,296.0 L273.7,296.1 L274.1,296.1 L274.6,296.1 L275.0,296.2 L275.4,296.3 L275.9,296.3 L276.4,296.4 L276.8,296.4 L277.3,296.5 L277.8,296.6 L278.3,296.7 L278.7,296.7 L279.2,296.8 L279.7,296.9 L280.1,296.9 L280.6,297.0 L281.1,297.1 L281.5,297.1 L282.0,297.2 L282.4,297.3 L282.9,297.3 L283.3,297.4 L283.8,297.5 L284.2,297.5 L284.7,297.6 L285.1,297.7 L285.6,297.7 L286.0,297.8 L286.4,297.9 L286.9,297.9 L287.3,298.0 L287.7,298.1 L288.2,298.1 L288.6,298.2 L289.0,298.3 L289.5,298.3 L289.9,298.4 L290.3,298.5 L290.8,298.5 L291.2,298.6 L291.6,298.7 L292.1,298.8 L292.5,298.8 L293.0,298.9 L293.4,299.0 L293.8,299.1 L294.3,299.2 L294.7,299.2 L295.2,299.3 L295.6,299.4 L296.1,299.5 L296.5,299.6 L296.9,299.7 L297.4,299.8 L297.8,299.9 L298.2,300.0 L298.7,300.0 L299.1,300.1 L299.5,300.2 L300.0,300.3 L300.4,300.4 L300.9,300.6 L301.3,300.7 L301.8,300.8 L302.3,300.9 L302.8,301.1 L303.2,301.2 L303.7,301.4 L304.2,301.6 L304.7,301.8 L305.3,301.9 L305.8,302.1 L306.3,302.3 L306.9,302.5 L307.4,302.6 L308.0,302.8 L308.6,303.0 L309.2,303.1 L309.9,303.3 L310.5,303.5 L311.2,303.7 L311.8,303.9 L312.5,304.0 L313.2,304.2 L313.9,304.4 L314.6,304.5 L315.2,304.7 L315.9,304.8 L316.6,304.9 L317.2,305.1 L317.9,305.2 L318.6,305.3 L319.2,305.4 L319.9,305.5 L320.6,305.6 L321.2,305.7 L321.9,305.8 L322.6,305.8 L323.2,305.9 L323.9,306.0 L324.6,306.1 L325.2,306.1 L325.9,306.2 L326.5,306.3 L327.2,306.3 L327.8,306.4 L328.5,306.4 L329.2,306.5 L329.8,306.5 L330.5,306.6 L331.1,306.6 L331.8,306.7 L332.5,306.8 L333.1,306.8 L333.8,306.9 L334.5,306.9 L335.1,307.0 L335.8,307.0 L336.5,307.1 L337.1,307.1 L337.8,307.2 L338.5,307.2 L339.1,307.3 L339.8,307.3 L340.5,307.3 L341.1,307.4 L341.8,307.4 L342.4,307.5 L343.1,307.5 L343.8,307.5 L344.4,307.6 L345.1,307.6 L345.7,307.6 L346.4,307.6 L347.0,307.7 L347.7,307.7 L348.4,307.7 L349.0,307.8 L349.7,307.8 L350.4,307.8 L351.0,307.8 L351.7,307.8 L352.4,307.9 L353.0,307.9 L353.7,307.9 L354.4,307.9 L355.0,308.0 L355.7,308.0 L356.4,308.0 L357.0,308.1 L357.7,308.1 L358.3,308.1 L359.0,308.2 L359.7,308.2 L360.3,308.3 L361.0,308.3 L361.6,308.3 L362.3,308.4 L362.9,308.4 L363.6,308.5 L364.3,308.6 L364.9,308.6 L365.5,308.7 L366.1,308.7 L366.7,308.8 L367.4,308.8 L368.0,308.9 L368.7,309.0 L369.3,309.0 L370.1,309.1 L370.8,309.2 L371.6,309.3 L372.4,309.4 L373.3,309.5 L374.2,309.6 L375.2,309.7 L376.1,309.9 L377.1,310.0 L378.1,310.1 L379.2,310.3 L380.2,310.4 L381.2,310.5 L382.3,310.7 L383.3,310.8 L384.3,310.9 L385.4,311.1 L386.5,311.2 L387.6,311.3 L388.7,311.4 L389.8,311.6 L390.9,311.7 L392.0,311.8 L393.2,312.0 L394.3,312.1 L395.4,312.2 L396.5,312.4 L397.6,312.6 L398.7,312.7 L399.8,312.9 L400.9,313.1 L402.0,313.3 L403.2,313.5 L404.3,313.7 L405.4,313.8 L406.5,314.0 L407.6,314.2 L408.7,314.4 L409.8,314.6 L410.9,314.8 L412.1,315.0 L413.2,315.2 L414.4,315.4 L415.5,315.6 L416.6,315.8 L417.8,315.9 L418.9,316.1 L420.0,316.3 L421.0,316.5 L422.0,316.6 L423.0,316.8 L423.9,316.9 L424.9,317.1 L425.8,317.2 L426.7,317.4 L427.6,317.5 L428.5,317.6 L429.3,317.8 L430.0,317.9 L430.7,318.0 L431.3,318.1 L431.9,318.1 L432.3,318.2" fill="none" stroke="#B93B3D" stroke-width="3.4" stroke-linecap="round" stroke-linejoin="round"/><path d="M51.7,145.5 L51.7,145.2 L51.8,144.8 L51.9,144.3 L52.0,143.8 L52.0,143.2 L52.1,142.6 L52.2,142.0 L52.3,141.3 L52.4,140.7 L52.5,140.1 L52.6,139.5 L52.7,139.0 L52.8,138.5 L52.9,138.0 L53.0,137.6 L53.0,137.1 L53.1,136.7 L53.2,136.3 L53.3,135.8 L53.4,135.4 L53.5,134.9 L53.6,134.4 L53.7,133.9 L53.8,133.3 L53.9,132.7 L54.1,132.1 L54.2,131.4 L54.3,130.7 L54.5,130.0 L54.6,129.3 L54.8,128.6 L54.9,127.8 L55.1,127.1 L55.3,126.4 L55.4,125.7 L55.6,125.0 L55.8,124.3 L55.9,123.6 L56.1,123.0 L56.3,122.3 L56.5,121.6 L56.7,120.9 L56.8,120.3 L57.0,119.6 L57.2,119.0 L57.4,118.4 L57.6,117.8 L57.8,117.2 L58.0,116.6 L58.2,116.1 L58.4,115.6 L58.6,115.1 L58.8,114.6 L59.0,114.1 L59.2,113.6 L59.4,113.2 L59.6,112.7 L59.8,112.3 L60.0,111.9 L60.2,111.5 L60.4,111.1 L60.7,110.8 L60.9,110.4 L61.1,110.1 L61.4,109.8 L61.6,109.5 L61.9,109.2 L62.1,108.9 L62.3,108.7 L62.6,108.4 L62.8,108.2 L63.0,108.0 L63.2,107.8 L63.4,107.6 L63.6,107.5 L63.8,107.3 L63.9,107.2 L64.1,107.1 L64.3,107.0 L64.5,106.9 L64.7,106.8 L64.8,106.7 L65.0,106.6 L65.2,106.5 L65.4,106.4 L65.6,106.3 L65.8,106.2 L66.0,106.1 L66.2,106.0 L66.4,105.9 L66.6,105.9 L66.8,105.8 L67.0,105.7 L67.2,105.6 L67.4,105.6 L67.6,105.5 L67.8,105.4 L68.1,105.4 L68.3,105.3 L68.5,105.3 L68.8,105.2 L69.0,105.2 L69.3,105.1 L69.5,105.1 L69.8,105.0 L70.0,105.0 L70.3,104.9 L70.5,104.9 L70.7,104.9 L71.0,104.8 L71.2,104.8 L71.5,104.8 L71.7,104.7 L72.0,104.7 L72.2,104.7 L72.5,104.7 L72.7,104.6 L73.0,104.6 L73.2,104.6 L73.5,104.6 L73.7,104.6 L74.0,104.6 L74.2,104.6 L74.5,104.6 L74.7,104.6 L75.0,104.7 L75.2,104.7 L75.5,104.7 L75.7,104.7 L76.0,104.7 L76.2,104.8 L76.5,104.8 L76.8,104.8 L77.0,104.9 L77.3,104.9 L77.6,104.9 L77.9,105.0 L78.1,105.0 L78.4,105.0 L78.7,105.1 L79.0,105.1 L79.3,105.2 L79.5,105.2 L79.8,105.3 L80.1,105.4 L80.3,105.5 L80.6,105.5 L80.9,105.6 L81.1,105.7 L81.4,105.8 L81.7,105.9 L81.9,106.0 L82.2,106.1 L82.5,106.2 L82.7,106.3 L83.0,106.4 L83.3,106.5 L83.5,106.6 L83.8,106.6 L84.1,106.7 L84.3,106.8 L84.6,106.9 L84.9,106.9 L85.1,107.0 L85.4,107.1 L85.7,107.2 L85.9,107.2 L86.2,107.3 L86.5,107.4 L86.7,107.4 L87.0,107.5 L87.3,107.6 L87.6,107.6 L87.9,107.7 L88.1,107.7 L88.4,107.8 L88.7,107.9 L89.0,107.9 L89.2,108.0 L89.5,108.0 L89.8,108.0 L90.0,108.1 L90.3,108.1 L90.5,108.2 L90.8,108.2 L91.1,108.2 L91.3,108.3 L91.6,108.3 L91.8,108.3 L92.1,108.3 L92.3,108.4 L92.6,108.4 L92.9,108.4 L93.1,108.4 L93.4,108.5 L93.7,108.5 L93.9,108.5 L94.2,108.5 L94.5,108.6 L94.7,108.6 L95.0,108.6 L95.3,108.6 L95.5,108.6 L95.8,108.6 L96.1,108.6 L96.3,108.6 L96.6,108.6 L96.8,108.6 L97.1,108.6 L97.4,108.5 L97.6,108.5 L97.9,108.5 L98.1,108.5 L98.4,108.5 L98.6,108.4 L98.9,108.4 L99.2,108.4 L99.4,108.3 L99.7,108.3 L99.9,108.2 L100.2,108.2 L100.4,108.2 L100.7,108.1 L101.0,108.0 L101.2,108.0 L101.5,107.9 L101.7,107.9 L102.0,107.8 L102.3,107.7 L102.6,107.7 L102.8,107.6 L103.1,107.5 L103.4,107.4 L103.7,107.3 L104.0,107.2 L104.3,107.1 L104.5,107.0 L104.8,107.0 L105.1,106.9 L105.3,106.8 L105.5,106.7 L105.7,106.7 L105.9,106.6 L106.1,106.5 L106.3,106.5 L106.5,106.4 L106.7,106.4 L106.8,106.3 L107.0,106.2 L107.2,106.2 L107.3,106.1 L107.5,106.0 L107.7,105.9 L107.8,105.8 L108.0,105.7 L108.1,105.6 L108.3,105.5 L108.5,105.4 L108.6,105.3 L108.8,105.2 L108.9,105.0 L109.1,104.9 L109.3,104.8 L109.5,104.6 L109.7,104.4 L109.9,104.2 L110.2,104.0 L110.4,103.8 L110.7,103.6 L110.9,103.4 L111.2,103.2 L111.5,102.9 L111.7,102.7 L112.0,102.5 L112.2,102.2 L112.5,102.0 L112.7,101.8 L113.0,101.6 L113.2,101.3 L113.5,101.1 L113.7,100.9 L114.0,100.6 L114.2,100.4 L114.5,100.2 L114.7,99.9 L115.0,99.7 L115.2,99.5 L115.5,99.2 L115.8,98.9 L116.0,98.7 L116.3,98.4 L116.6,98.1 L116.8,97.9 L117.1,97.6 L117.4,97.3 L117.6,97.0 L117.9,96.7 L118.2,96.5 L118.4,96.2 L118.7,95.9 L119.0,95.6 L119.2,95.4 L119.5,95.1 L119.7,94.9 L120.0,94.6 L120.2,94.3 L120.5,94.1 L120.8,93.8 L121.0,93.6 L121.3,93.3 L121.5,93.0 L121.8,92.7 L122.1,92.4 L122.3,92.1 L122.6,91.7 L122.9,91.4 L123.1,91.1 L123.4,90.7 L123.7,90.4 L123.9,90.0 L124.2,89.7 L124.5,89.3 L124.7,89.0 L125.0,88.7 L125.3,88.4 L125.5,88.1 L125.8,87.8 L126.1,87.5 L126.3,87.2 L126.6,86.9 L126.9,86.7 L127.1,86.4 L127.4,86.1 L127.7,85.8 L127.9,85.6 L128.2,85.3 L128.5,85.0 L128.7,84.8 L129.0,84.5 L129.3,84.3 L129.5,84.0 L129.8,83.8 L130.1,83.5 L130.3,83.3 L130.6,83.0 L130.9,82.8 L131.1,82.5 L131.4,82.3 L131.7,82.1 L131.9,81.8 L132.2,81.6 L132.5,81.4 L132.7,81.2 L133.0,80.9 L133.3,80.7 L133.5,80.5 L133.8,80.3 L134.1,80.1 L134.3,79.9 L134.6,79.7 L134.9,79.5 L135.1,79.3 L135.4,79.1 L135.7,78.9 L135.9,78.8 L136.2,78.6 L136.5,78.4 L136.7,78.3 L137.0,78.1 L137.3,77.9 L137.5,77.8 L137.8,77.6 L138.1,77.4 L138.3,77.3 L138.6,77.2 L138.8,77.0 L139.1,76.9 L139.4,76.7 L139.6,76.6 L139.9,76.5 L140.1,76.3 L140.4,76.2 L140.6,76.1 L140.9,75.9 L141.2,75.7 L141.4,75.6 L141.7,75.4 L141.9,75.2 L142.2,75.1 L142.4,74.9 L142.7,74.7 L143.0,74.6 L143.2,74.4 L143.5,74.2 L143.7,74.1 L144.0,73.9 L144.3,73.7 L144.5,73.6 L144.8,73.4 L145.1,73.2 L145.4,73.1 L145.7,72.9 L146.0,72.7 L146.2,72.6 L146.5,72.4 L146.8,72.3 L147.0,72.2 L147.3,72.1 L147.5,72.0 L147.8,72.0 L148.0,71.9 L148.3,71.9 L148.5,71.8 L148.7,71.8 L149.0,71.8 L149.2,71.8 L149.4,71.8 L149.6,71.8 L149.8,71.8 L150.0,71.8 L150.2,71.8 L150.4,71.9 L150.5,71.9 L150.7,72.0 L150.9,72.0 L151.0,72.1 L151.2,72.2 L151.4,72.2 L151.5,72.3 L151.7,72.4 L151.8,72.4 L152.0,72.5 L152.2,72.6 L152.3,72.6 L152.5,72.7 L152.6,72.7 L152.8,72.8 L152.9,72.9 L153.1,72.9 L153.3,73.0 L153.4,73.1 L153.6,73.1 L153.8,73.2 L154.0,73.3 L154.2,73.4 L154.4,73.5 L154.7,73.6 L154.9,73.6 L155.2,73.7 L155.4,73.8 L155.7,73.9 L156.0,74.0 L156.2,74.1 L156.5,74.3 L156.7,74.4 L157.0,74.5 L157.2,74.6 L157.5,74.7 L157.7,74.9 L158.0,75.0 L158.2,75.1 L158.5,75.3 L158.7,75.4 L159.0,75.6 L159.2,75.7 L159.5,75.9 L159.7,76.1 L160.0,76.3 L160.3,76.5 L160.5,76.8 L160.8,77.0 L161.1,77.3 L161.4,77.5 L161.6,77.8 L161.9,78.1 L162.2,78.4 L162.5,78.7 L162.8,79.0 L163.0,79.3 L163.3,79.6 L163.6,79.9 L163.8,80.2 L164.1,80.5 L164.3,80.8 L164.6,81.2 L164.9,81.5 L165.1,81.8 L165.4,82.2 L165.6,82.5 L165.9,82.8 L166.1,83.2 L166.4,83.5 L166.7,83.8 L166.9,84.2 L167.2,84.5 L167.4,84.9 L167.7,85.2 L167.9,85.5 L168.2,85.9 L168.5,86.2 L168.7,86.6 L169.0,86.9 L169.2,87.3 L169.5,87.6 L169.8,87.9 L170.0,88.3 L170.3,88.6 L170.5,88.9 L170.8,89.3 L171.0,89.6 L171.3,89.9 L171.6,90.3 L171.8,90.6 L172.1,90.9 L172.3,91.3 L172.6,91.6 L172.9,91.9 L173.1,92.3 L173.4,92.6 L173.7,93.0 L173.9,93.3 L174.2,93.7 L174.5,94.0 L174.7,94.4 L175.0,94.7 L175.3,95.1 L175.5,95.4 L175.8,95.8 L176.1,96.2 L176.3,96.5 L176.6,96.9 L176.9,97.3 L177.1,97.6 L177.4,98.0 L177.6,98.4 L177.9,98.7 L178.2,99.1 L178.4,99.5 L178.7,99.8 L178.9,100.2 L179.1,100.6 L179.4,100.9 L179.6,101.3 L179.8,101.6 L180.0,102.0 L180.2,102.3 L180.4,102.7 L180.6,103.1 L180.9,103.4 L181.1,103.8 L181.3,104.1 L181.5,104.5 L181.7,104.9 L181.9,105.2 L182.1,105.6 L182.4,105.9 L182.6,106.2 L182.8,106.6 L183.0,107.0 L183.2,107.3 L183.4,107.7 L183.7,108.1 L183.9,108.5 L184.2,109.0 L184.5,109.5 L184.8,110.0 L185.1,110.5 L185.4,111.1 L185.7,111.7 L186.0,112.2 L186.4,112.8 L186.7,113.4 L187.0,114.0 L187.4,114.6 L187.7,115.2 L188.0,115.8 L188.3,116.4 L188.6,116.9 L188.9,117.5 L189.3,118.1 L189.6,118.7 L189.9,119.2 L190.2,119.8 L190.5,120.4 L190.8,121.0 L191.1,121.5 L191.4,122.1 L191.7,122.7 L192.0,123.3 L192.3,123.9 L192.5,124.4 L192.8,125.0 L193.1,125.6 L193.4,126.2 L193.6,126.7 L193.9,127.3 L194.2,127.9 L194.4,128.5 L194.7,129.0 L195.0,129.6 L195.3,130.2 L195.6,130.7 L195.9,131.3 L196.2,131.9 L196.5,132.5 L196.8,133.1 L197.1,133.6 L197.4,134.2 L197.7,134.8 L197.9,135.3 L198.2,135.9 L198.5,136.4 L198.8,136.9 L199.0,137.5 L199.3,138.0 L199.5,138.5 L199.8,139.0 L200.1,139.5 L200.3,140.0 L200.5,140.5 L200.8,141.0 L201.0,141.4 L201.3,141.9 L201.5,142.4 L201.7,142.9 L202.0,143.3 L202.2,143.8 L202.4,144.3 L202.7,144.7 L202.9,145.2 L203.1,145.6 L203.3,146.1 L203.6,146.5 L203.8,146.9 L204.0,147.4 L204.2,147.8 L204.4,148.2 L204.6,148.6 L204.8,149.0 L205.0,149.4 L205.2,149.8 L205.4,150.2 L205.6,150.6 L205.7,150.9 L205.9,151.3 L206.1,151.7 L206.3,152.1 L206.5,152.5 L206.7,152.9 L206.9,153.3 L207.1,153.7 L207.3,154.1 L207.5,154.6 L207.7,155.0 L207.8,155.4 L208.0,155.8 L208.2,156.2 L208.4,156.7 L208.6,157.1 L208.8,157.5 L209.0,157.9 L209.2,158.3 L209.4,158.8 L209.5,159.2 L209.7,159.6 L209.9,160.0 L210.1,160.4 L210.3,160.8 L210.5,161.3 L210.6,161.7 L210.8,162.1 L211.0,162.5 L211.2,162.9 L211.3,163.3 L211.5,163.7 L211.7,164.1 L211.8,164.5 L212.0,164.9 L212.2,165.3 L212.3,165.7 L212.5,166.1 L212.7,166.5 L212.8,166.9 L213.0,167.3 L213.2,167.7 L213.4,168.2 L213.6,168.6 L213.8,169.0 L214.0,169.5 L214.2,169.9 L214.3,170.4 L214.5,170.9 L214.7,171.3 L214.9,171.7 L215.1,172.2 L215.3,172.6 L215.5,173.0 L215.7,173.4 L215.8,173.8 L216.0,174.2 L216.2,174.6 L216.3,175.0 L216.5,175.4 L216.6,175.8 L216.8,176.2 L217.0,176.6 L217.1,177.0 L217.3,177.4 L217.5,177.8 L217.6,178.2 L217.8,178.6 L217.9,179.0 L218.1,179.4 L218.3,179.8 L218.4,180.3 L218.6,180.7 L218.8,181.1 L218.9,181.6 L219.1,182.0 L219.3,182.5 L219.5,183.0 L219.7,183.5 L219.9,184.0 L220.1,184.6 L220.3,185.1 L220.5,185.7 L220.7,186.2 L220.9,186.8 L221.2,187.3 L221.4,187.9 L221.6,188.5 L221.8,189.0 L222.0,189.5 L222.2,190.1 L222.4,190.6 L222.6,191.2 L222.9,191.7 L223.1,192.3 L223.3,192.8 L223.5,193.3 L223.7,193.9 L223.9,194.4 L224.2,195.0 L224.4,195.5 L224.6,196.0 L224.9,196.6 L225.1,197.1 L225.4,197.6 L225.6,198.1 L225.9,198.7 L226.2,199.2 L226.4,199.7 L226.7,200.2 L227.0,200.7 L227.2,201.3 L227.5,201.8 L227.8,202.3 L228.0,202.9 L228.3,203.4 L228.6,203.9 L228.9,204.5 L229.1,205.0 L229.4,205.5 L229.7,206.1 L230.0,206.6 L230.3,207.1 L230.5,207.7 L230.8,208.2 L231.1,208.7 L231.3,209.3 L231.6,209.8 L231.9,210.3 L232.1,210.9 L232.4,211.4 L232.7,211.9 L232.9,212.5 L233.2,213.0 L233.5,213.5 L233.7,214.1 L234.0,214.6 L234.3,215.1 L234.5,215.7 L234.8,216.2 L235.0,216.7 L235.3,217.2 L235.6,217.8 L235.8,218.3 L236.1,218.8 L236.3,219.3 L236.6,219.8 L236.8,220.4 L237.1,220.9 L237.4,221.4 L237.6,222.0 L237.9,222.5 L238.2,223.0 L238.4,223.6 L238.7,224.1 L239.0,224.6 L239.2,225.2 L239.5,225.7 L239.8,226.2 L240.0,226.8 L240.3,227.3 L240.6,227.8 L240.8,228.4 L241.1,228.9 L241.3,229.4 L241.6,229.9 L241.9,230.4 L242.1,231.0 L242.4,231.5 L242.7,232.0 L242.9,232.6 L243.2,233.1 L243.5,233.7 L243.8,234.3 L244.1,234.9 L244.4,235.5 L244.7,236.1 L245.0,236.7 L245.3,237.3 L245.6,238.0 L245.9,238.6 L246.3,239.2 L246.6,239.9 L246.9,240.5 L247.2,241.1 L247.5,241.7 L247.8,242.3 L248.1,243.0 L248.5,243.6 L248.8,244.2 L249.1,244.9 L249.4,245.5 L249.7,246.1 L250.0,246.7 L250.3,247.3 L250.6,247.9 L250.9,248.5 L251.2,249.1 L251.4,249.6 L251.7,250.2 L252.0,250.7 L252.2,251.2 L252.5,251.7 L252.7,252.2 L253.0,252.7 L253.2,253.3 L253.5,253.8 L253.7,254.3 L254.0,254.8 L254.3,255.3 L254.5,255.9 L254.8,256.4 L255.1,256.9 L255.4,257.5 L255.6,258.0 L255.9,258.5 L256.2,259.1 L256.5,259.6 L256.8,260.1 L257.0,260.5 L257.3,261.0 L257.6,261.4 L257.8,261.9 L258.1,262.3 L258.4,262.7 L258.6,263.1 L258.9,263.5 L259.2,263.9 L259.4,264.2 L259.7,264.6 L260.0,264.9 L260.2,265.3 L260.5,265.6 L260.8,265.9 L261.0,266.2 L261.3,266.5 L261.6,266.8 L261.8,267.1 L262.1,267.4 L262.4,267.6 L262.6,267.9 L262.9,268.1 L263.2,268.3 L263.4,268.6 L263.7,268.8 L264.0,269.0 L264.2,269.2 L264.5,269.4 L264.7,269.6 L265.0,269.8 L265.2,270.0 L265.5,270.2 L265.8,270.3 L266.0,270.5 L266.3,270.7 L266.5,270.8 L266.8,271.0 L267.1,271.2 L267.3,271.3 L267.6,271.5 L267.9,271.6 L268.1,271.8 L268.4,271.9 L268.7,272.0 L268.9,272.2 L269.2,272.3 L269.5,272.5 L269.7,272.6 L270.0,272.8 L270.3,273.0 L270.5,273.1 L270.8,273.3 L271.1,273.5 L271.3,273.7 L271.6,273.8 L271.9,274.0 L272.1,274.2 L272.4,274.4 L272.7,274.6 L272.9,274.8 L273.2,275.0 L273.5,275.2 L273.7,275.4 L274.0,275.6 L274.3,275.8 L274.5,276.1 L274.8,276.3 L275.1,276.5 L275.3,276.7 L275.6,277.0 L275.9,277.2 L276.1,277.5 L276.4,277.7 L276.7,278.0 L276.9,278.2 L277.2,278.5 L277.4,278.7 L277.7,279.0 L277.9,279.3 L278.2,279.6 L278.5,279.9 L278.7,280.1 L279.0,280.4 L279.2,280.6 L279.5,280.9 L279.8,281.1 L280.0,281.4 L280.3,281.6 L280.5,281.9 L280.8,282.1 L281.0,282.3 L281.3,282.5 L281.5,282.8 L281.8,283.0 L282.1,283.2 L282.4,283.4 L282.7,283.6 L283.0,283.8 L283.4,284.0 L283.7,284.2 L284.1,284.4 L284.4,284.6 L284.8,284.8 L285.2,284.9 L285.5,285.1 L285.9,285.3 L286.3,285.5 L286.6,285.6 L287.0,285.8 L287.3,286.0 L287.7,286.1 L288.0,286.3 L288.4,286.5 L288.7,286.6 L289.0,286.8 L289.4,286.9 L289.7,287.1 L290.1,287.2 L290.4,287.4 L290.8,287.5 L291.2,287.7 L291.6,287.9 L292.0,288.0 L292.4,288.2 L292.9,288.3 L293.3,288.5 L293.8,288.7 L294.2,288.8 L294.7,289.0 L295.1,289.1 L295.6,289.3 L296.1,289.5 L296.5,289.6 L296.9,289.7 L297.4,289.9 L297.8,290.0 L298.2,290.2 L298.7,290.3 L299.1,290.4 L299.5,290.5 L300.0,290.7 L300.4,290.8 L300.9,290.9 L301.3,291.1 L301.8,291.2 L302.3,291.3 L302.8,291.5 L303.2,291.6 L303.7,291.7 L304.2,291.8 L304.7,292.0 L305.3,292.1 L305.8,292.2 L306.3,292.3 L306.9,292.5 L307.4,292.6 L308.0,292.8 L308.6,293.0 L309.2,293.2 L309.9,293.3 L310.5,293.5 L311.2,293.7 L311.8,294.0 L312.5,294.2 L313.2,294.4 L313.9,294.6 L314.6,294.8 L315.2,295.0 L315.9,295.2 L316.6,295.4 L317.2,295.6 L317.9,295.8 L318.6,296.0 L319.2,296.2 L319.9,296.4 L320.6,296.6 L321.2,296.8 L321.9,297.0 L322.6,297.1 L323.2,297.3 L323.9,297.5 L324.6,297.7 L325.2,297.8 L325.9,298.0 L326.5,298.2 L327.2,298.3 L327.8,298.5 L328.5,298.6 L329.2,298.8 L329.8,299.0 L330.5,299.1 L331.1,299.3 L331.8,299.4 L332.5,299.5 L333.1,299.7 L333.8,299.8 L334.5,300.0 L335.1,300.1 L335.8,300.2 L336.5,300.3 L337.1,300.5 L337.8,300.6 L338.5,300.7 L339.1,300.9 L339.8,301.0 L340.5,301.1 L341.1,301.3 L341.8,301.4 L342.4,301.5 L343.1,301.7 L343.8,301.8 L344.4,301.9 L345.1,302.1 L345.7,302.2 L346.4,302.3 L347.0,302.5 L347.7,302.6 L348.4,302.7 L349.0,302.9 L349.7,303.0 L350.4,303.1 L351.0,303.3 L351.7,303.4 L352.4,303.5 L353.0,303.7 L353.7,303.8 L354.4,303.9 L355.0,304.1 L355.7,304.2 L356.4,304.3 L357.0,304.4 L357.7,304.6 L358.3,304.7 L359.0,304.8 L359.7,304.9 L360.3,305.0 L361.0,305.2 L361.6,305.3 L362.3,305.4 L362.9,305.5 L363.6,305.6 L364.3,305.7 L364.9,305.8 L365.5,305.9 L366.1,306.0 L366.7,306.1 L367.4,306.2 L368.0,306.2 L368.7,306.3 L369.3,306.4 L370.1,306.5 L370.8,306.6 L371.6,306.7 L372.4,306.8 L373.3,306.9 L374.2,307.0 L375.2,307.1 L376.1,307.2 L377.1,307.2 L378.1,307.3 L379.2,307.4 L380.2,307.5 L381.2,307.7 L382.3,307.8 L383.3,307.9 L384.3,308.0 L385.4,308.2 L386.5,308.3 L387.6,308.5 L388.7,308.6 L389.8,308.8 L390.9,309.0 L392.0,309.1 L393.2,309.3 L394.3,309.5 L395.4,309.6 L396.5,309.8 L397.6,310.0 L398.7,310.1 L399.8,310.3 L400.9,310.5 L402.0,310.6 L403.2,310.8 L404.3,311.0 L405.4,311.1 L406.5,311.3 L407.6,311.5 L408.7,311.6 L409.8,311.8 L410.9,312.0 L412.1,312.1 L413.2,312.3 L414.4,312.5 L415.5,312.6 L416.6,312.8 L417.8,313.0 L418.9,313.2 L420.0,313.3 L421.0,313.5 L422.0,313.6 L423.0,313.8 L423.9,314.0 L424.9,314.1 L425.8,314.3 L426.7,314.5 L427.6,314.6 L428.5,314.8 L429.3,314.9 L430.0,315.1 L430.7,315.2 L431.3,315.3 L431.9,315.4 L432.3,315.5" fill="none" stroke="#88B04B" stroke-width="3.4" stroke-linecap="round" stroke-linejoin="round"/><path d="M64.0,159.0 L64.0,159.4 L64.0,159.9 L64.0,160.5 L64.1,161.1 L64.1,161.8 L64.1,162.5 L64.1,163.3 L64.2,164.1 L64.2,164.9 L64.2,165.8 L64.2,166.6 L64.3,167.5 L64.3,168.5 L64.3,169.4 L64.3,170.3 L64.4,171.3 L64.4,172.2 L64.4,173.2 L64.5,174.1 L64.5,175.0 L64.5,175.9 L64.6,176.8 L64.6,177.8 L64.6,178.7 L64.7,179.7 L64.7,180.6 L64.7,181.6 L64.8,182.6 L64.8,183.6 L64.8,184.6 L64.9,185.6 L64.9,186.6 L64.9,187.6 L65.0,188.7 L65.0,189.7 L65.1,190.8 L65.1,191.8 L65.1,192.9 L65.2,193.9 L65.2,195.0 L65.2,196.1 L65.3,197.3 L65.3,198.5 L65.3,199.8 L65.4,201.1 L65.4,202.5 L65.4,203.8 L65.5,205.2 L65.5,206.6 L65.5,207.9 L65.5,209.2 L65.6,210.5 L65.6,211.7 L65.6,212.8 L65.7,213.9 L65.7,214.8 L65.8,215.7 L65.8,216.5 L65.9,217.1 L65.9,217.6 L66.0,218.0 L66.0,218.2 L66.1,218.4 L66.1,218.4 L66.2,218.4 L66.2,218.3 L66.3,218.1 L66.4,217.8 L66.4,217.5 L66.5,217.1 L66.6,216.7 L66.7,216.2 L66.7,215.7 L66.8,215.2 L66.9,214.7 L66.9,214.1 L67.0,213.6 L67.1,213.0 L67.1,212.5 L67.2,212.0 L67.3,211.5 L67.3,211.0 L67.4,210.4 L67.4,209.8 L67.5,209.1 L67.6,208.5 L67.6,207.8 L67.7,207.1 L67.7,206.4 L67.8,205.7 L67.8,204.9 L67.9,204.2 L68.0,203.4 L68.0,202.6 L68.1,201.9 L68.1,201.1 L68.2,200.3 L68.3,199.5 L68.3,198.8 L68.4,198.0 L68.5,197.2 L68.5,196.4 L68.6,195.6 L68.7,194.8 L68.8,193.9 L68.8,193.1 L68.9,192.2 L69.0,191.3 L69.0,190.4 L69.1,189.5 L69.2,188.7 L69.3,187.8 L69.4,187.0 L69.4,186.1 L69.5,185.3 L69.6,184.6 L69.7,183.8 L69.7,183.1 L69.8,182.4 L69.9,181.8 M76.2,167.7 L76.3,167.7 L76.5,167.6 L76.7,167.5 L76.8,167.5 L77.0,167.4 L77.2,167.3 L77.3,167.3 L77.5,167.2 L77.7,167.2 L77.8,167.1 L78.0,167.1 L78.2,167.0 L78.4,167.0 L78.5,166.9 L78.7,166.9 L78.9,166.9 L79.1,166.8 L79.3,166.8 L79.4,166.7 L79.6,166.7 L79.8,166.6 L80.0,166.6 L80.2,166.6 L80.4,166.5 L80.6,166.5 L80.8,166.4 L81.0,166.4 L81.2,166.3 L81.4,166.3 L81.6,166.2 L81.8,166.2 L82.0,166.1 L82.2,166.1 L82.4,166.0 L82.6,166.0 L82.8,165.9 L83.0,165.9 L83.2,165.9 L83.4,165.8 L83.6,165.8 L83.8,165.8 L84.0,165.8 L84.2,165.8 L84.4,165.8 L84.6,165.8 L84.7,165.8 L84.9,165.8 L85.1,165.8 L85.3,165.9 L85.5,165.9 L85.7,165.9 L85.8,165.9 L86.0,166.0 L86.2,166.0 L86.4,166.0 L86.5,166.1 L86.7,166.1 L86.9,166.1 L87.0,166.2 M95.9,172.4 L96.0,172.6 L96.2,172.7 L96.3,172.9 L96.5,173.1 L96.6,173.2 L96.8,173.4 L97.0,173.5 L97.1,173.7 L97.3,173.9 L97.5,174.0 L97.6,174.2 L97.8,174.4 L98.0,174.5 L98.1,174.7 L98.3,174.9 L98.5,175.0 L98.7,175.2 L98.8,175.3 L99.0,175.5 L99.2,175.7 L99.3,175.8 L99.5,176.0 L99.7,176.1 L99.9,176.3 L100.0,176.4 L100.2,176.6 L100.4,176.7 L100.6,176.8 L100.7,177.0 L100.9,177.1 L101.1,177.3 L101.3,177.4 L101.4,177.6 L101.6,177.7 L101.8,177.9 L102.0,178.0 L102.1,178.2 L102.3,178.3 L102.5,178.5 L102.7,178.7 L102.8,178.8 L103.0,179.0 L103.2,179.1 L103.4,179.3 L103.5,179.5 L103.7,179.6 L103.9,179.8 L104.0,179.9 L104.2,180.1 L104.4,180.3 L104.6,180.4 L104.7,180.6 L104.9,180.8 L105.1,180.9 L105.3,181.1 L105.4,181.3 L105.6,181.5 L105.8,181.6 L106.0,181.8 L106.2,182.0 L106.4,182.2 L106.6,182.3 L106.8,182.5 L107.0,182.7 L107.2,182.9 L107.4,183.1 L107.6,183.3 L107.8,183.4 L108.0,183.6 L108.2,183.8 L108.4,184.0 L108.6,184.2 L108.8,184.4 L109.0,184.5 L109.2,184.7 L109.4,184.9 L109.6,185.1 L109.8,185.2 L110.0,185.4 L110.2,185.6 L110.4,185.7 L110.6,185.9 L110.8,186.0 L111.0,186.2 L111.2,186.3 L111.4,186.4 L111.6,186.6 L111.8,186.7 L111.9,186.8 L112.1,187.0 L112.3,187.1 L112.5,187.3 L112.7,187.4 L112.9,187.5 L113.1,187.7 L113.3,187.8 L113.4,187.9 L113.6,188.1 L113.8,188.2 M123.1,195.1 L123.3,195.2 L123.5,195.3 L123.7,195.3 L123.8,195.4 L124.0,195.5 L124.2,195.5 L124.4,195.6 L124.6,195.6 L124.7,195.7 L124.9,195.7 L125.1,195.8 L125.3,195.8 L125.5,195.9 L125.7,195.9 L125.9,196.0 L126.0,196.0 L126.2,196.0 L126.4,196.1 L126.6,196.1 L126.8,196.2 L127.0,196.2 L127.2,196.2 L127.4,196.3 L127.6,196.3 L127.8,196.4 L128.0,196.4 L128.2,196.4 L128.4,196.5 L128.6,196.5 L128.8,196.5 L129.0,196.6 L129.2,196.6 L129.4,196.6 L129.6,196.7 L129.8,196.7 L130.0,196.7 L130.2,196.7 L130.4,196.8 L130.6,196.8 L130.8,196.8 L131.0,196.8 L131.2,196.8 L131.4,196.8 L131.6,196.8 L131.8,196.8 L132.0,196.8 L132.2,196.8 L132.4,196.8 L132.6,196.8 L132.7,196.8 L132.9,196.7 L133.1,196.7 L133.3,196.7 L133.5,196.7 L133.7,196.7 L133.9,196.6 L134.1,196.6 L134.3,196.6 L134.6,196.6 L134.8,196.5 L135.0,196.5 L135.2,196.5 L135.5,196.4 L135.7,196.4 L135.9,196.4 L136.2,196.3 L136.4,196.3 L136.7,196.2 L136.9,196.2 L137.1,196.1 L137.4,196.1 L137.7,196.0 L137.9,196.0 L138.2,195.9 L138.4,195.9 L138.7,195.8 L138.9,195.8 L139.2,195.7 L139.5,195.7 L139.7,195.6 L140.0,195.6 L140.3,195.6 L140.5,195.5 L140.8,195.5 L141.1,195.4 L141.4,195.4 L141.7,195.4 L142.0,195.4 L142.3,195.3 L142.5,195.3 L142.8,195.3 L143.1,195.2 L143.4,195.2 L143.7,195.1 L144.0,195.1 L144.3,195.0 L144.5,195.0 L144.8,194.9 L145.1,194.8 L145.3,194.7 M154.7,185.6 L154.9,185.4 L155.1,185.2 L155.3,185.0 L155.5,184.9 L155.7,184.7 L155.9,184.5 L156.1,184.3 L156.2,184.2 L156.4,184.0 L156.6,183.8 L156.8,183.6 L157.0,183.5 L157.2,183.3 L157.4,183.1 L157.6,183.0 L157.8,182.8 L158.0,182.6 L158.2,182.4 L158.4,182.2 L158.6,182.1 L158.8,181.9 L159.0,181.7 L159.2,181.5 L159.4,181.3 L159.6,181.2 L159.8,181.0 L160.0,180.8 L160.2,180.6 L160.4,180.4 L160.6,180.3 L160.8,180.1 L161.0,179.9 L161.2,179.7 L161.4,179.5 L161.6,179.4 L161.8,179.2 L162.0,179.0 L162.2,178.8 L162.4,178.6 L162.6,178.5 L162.7,178.3 L162.9,178.1 L163.1,177.9 L163.3,177.7 L163.5,177.6 L163.6,177.4 L163.8,177.2 L164.0,177.0 L164.2,176.9 L164.3,176.7 L164.5,176.5 L164.7,176.3 L164.8,176.2 L165.0,176.0 L165.2,175.8 L165.3,175.7 L165.5,175.5 L165.7,175.3 L165.8,175.2 L166.0,175.0 L166.1,174.9 L166.3,174.7 L166.4,174.5 L166.6,174.4 L166.7,174.2 L166.9,174.1 L167.0,173.9 L167.1,173.8 L167.3,173.6 L167.4,173.5 L167.6,173.3 L167.7,173.2 L167.9,173.0 L168.0,172.9 L168.2,172.8 L168.3,172.6 L168.5,172.5 L168.7,172.4 L168.8,172.3 L169.0,172.2 L169.2,172.1 L169.3,172.0 L169.5,171.9 L169.7,171.8 L169.8,171.7 L170.0,171.6 L170.2,171.5 L170.4,171.4 L170.5,171.3 L170.7,171.2 L170.9,171.1 L171.1,171.0 L171.3,170.9 L171.4,170.8 L171.6,170.7 M181.5,164.1 L181.6,164.1 L181.7,164.1 L181.8,164.1 L182.0,164.1 L182.1,164.1 L182.3,164.1 L182.4,164.1 L182.6,164.1 L182.8,164.1 L182.9,164.1 L183.1,164.1 L183.3,164.2 L183.5,164.2 L183.7,164.2 L183.9,164.2 L184.1,164.2 L184.3,164.3 L184.6,164.3 L184.8,164.3 L185.0,164.4 L185.2,164.4 L185.4,164.5 L185.6,164.5 L185.8,164.6 L186.0,164.6 L186.2,164.6 L186.4,164.7 L186.6,164.8 L186.8,164.8 L187.0,164.9 L187.2,164.9 L187.4,165.0 L187.6,165.1 L187.8,165.1 L188.0,165.2 L188.2,165.3 L188.4,165.4 L188.6,165.4 L188.8,165.5 L189.0,165.6 L189.2,165.7 L189.4,165.7 L189.6,165.8 L189.8,165.9 L190.0,166.0 L190.2,166.1 L190.4,166.2 L190.6,166.3 L190.8,166.4 L191.0,166.5 L191.2,166.5 L191.4,166.6 L191.6,166.7 L191.8,166.8 L192.0,167.0 L192.2,167.1 L192.4,167.2 L192.6,167.3 L192.8,167.4 L193.0,167.5 L193.2,167.6 L193.4,167.7 L193.6,167.8 L193.8,167.9 L194.0,168.0 L194.2,168.1 L194.4,168.2 L194.6,168.3 L194.8,168.4 L195.0,168.5 L195.2,168.6 L195.4,168.7 L195.6,168.8 L195.8,168.9 L196.0,169.0 L196.2,169.1 L196.4,169.2 L196.6,169.3 L196.8,169.4 L197.0,169.5 L197.2,169.7 L197.4,169.8 L197.6,169.9 L197.8,170.1 L198.0,170.2 L198.2,170.3 L198.4,170.5 L198.6,170.7 L198.9,170.8 L199.1,171.0 L199.3,171.2 L199.5,171.4 L199.8,171.5 L200.0,171.7 L200.2,171.9 L200.5,172.1 L200.7,172.3 L200.9,172.5 L201.1,172.7 L201.3,172.9 L201.5,173.1 L201.7,173.2 L201.9,173.4 L202.1,173.6 L202.3,173.8 M209.4,183.8 L209.5,184.0 L209.6,184.2 L209.8,184.5 L209.9,184.7 L210.1,185.0 L210.3,185.3 L210.4,185.6 L210.6,185.9 L210.8,186.2 L211.0,186.5 L211.2,186.8 L211.3,187.1 L211.5,187.4 L211.7,187.7 L211.9,188.1 L212.1,188.4 L212.3,188.7 L212.5,189.0 L212.6,189.4 L212.8,189.7 L213.0,190.0 L213.2,190.3 L213.4,190.6 L213.5,191.0 L213.7,191.3 L213.9,191.6 L214.1,192.0 L214.3,192.3 L214.4,192.7 L214.6,193.0 L214.8,193.3 L215.0,193.7 L215.2,194.0 L215.3,194.4 L215.5,194.7 L215.7,195.0 L215.9,195.3 L216.0,195.6 L216.2,195.9 L216.3,196.2 L216.5,196.5 L216.6,196.8 L216.8,197.0 L216.9,197.3 L217.1,197.5 L217.2,197.8 L217.3,198.0 L217.5,198.2 L217.6,198.5 L217.7,198.7 L217.8,198.9 L218.0,199.1 L218.1,199.3 L218.2,199.5 L218.3,199.7 L218.4,200.0 L218.5,200.2 L218.7,200.4 L218.8,200.6 L218.9,200.8 L219.0,201.0 L219.1,201.2 L219.2,201.4 L219.3,201.6 L219.4,201.8 L219.6,202.0 L219.7,202.2 L219.8,202.4 L219.9,202.5 L220.0,202.7 L220.1,202.9 L220.2,203.1 L220.3,203.3 L220.4,203.5 L220.5,203.7 L220.6,203.9 L220.7,204.1 L220.8,204.3 L221.0,204.5 L221.1,204.8 L221.2,205.0 M226.5,215.6 L226.7,215.9 L226.8,216.2 L227.0,216.5 L227.1,216.8 L227.3,217.2 L227.5,217.5 L227.7,217.9 L227.8,218.2 L228.0,218.6 L228.2,218.9 L228.4,219.3 L228.6,219.7 L228.7,220.0 L228.9,220.4 L229.1,220.7 L229.3,221.1 L229.5,221.5 L229.6,221.8 L229.8,222.2 L230.0,222.5 L230.2,222.8 L230.4,223.2 L230.5,223.5 L230.7,223.9 L230.9,224.2 L231.1,224.6 L231.3,224.9 L231.4,225.2 L231.6,225.6 L231.8,225.9 L232.0,226.3 L232.2,226.6 L232.3,226.9 L232.5,227.2 L232.7,227.6 L232.9,227.9 L233.0,228.2 L233.2,228.5 L233.3,228.7 L233.5,229.0 L233.6,229.3 L233.8,229.5 L233.9,229.7 L234.1,230.0 L234.2,230.2 L234.3,230.4 L234.5,230.6 L234.6,230.8 L234.7,231.0 L234.8,231.2 L235.0,231.4 L235.1,231.6 L235.2,231.8 L235.3,232.0 L235.4,232.1 L235.5,232.3 L235.7,232.5 L235.8,232.7 L235.9,232.8 L236.0,233.0 L236.1,233.2 L236.2,233.3 L236.3,233.5 L236.5,233.6 L236.6,233.7 L236.7,233.9 L236.8,234.0 L236.9,234.1 L237.0,234.2 L237.1,234.3 L237.2,234.4 L237.3,234.6 L237.4,234.7 L237.5,234.8 L237.7,235.0 L237.8,235.1 L237.9,235.3 L238.0,235.4 L238.1,235.6 L238.2,235.8 M243.1,246.8 L243.3,247.1 L243.4,247.4 L243.6,247.7 L243.7,248.0 L243.9,248.3 L244.0,248.6 L244.2,248.9 L244.3,249.2 L244.5,249.5 L244.6,249.8 L244.8,250.1 L244.9,250.4 L245.1,250.8 L245.2,251.1 L245.4,251.3 L245.5,251.6 L245.7,251.9 L245.8,252.2 L246.0,252.5 L246.1,252.8 L246.3,253.0 L246.4,253.3 L246.6,253.6 L246.8,253.8 L246.9,254.1 L247.0,254.3 L247.2,254.6 L247.4,254.9 L247.5,255.1 L247.7,255.3 L247.8,255.6 L247.9,255.8 L248.1,256.1 L248.2,256.3 L248.4,256.6 L248.5,256.8 L248.7,257.1 L248.9,257.3 L249.0,257.6 L249.1,257.9 L249.3,258.1 L249.4,258.4 L249.6,258.6 L249.7,258.9 L249.9,259.2 L250.0,259.4 L250.2,259.7 L250.3,260.0 L250.5,260.2 L250.6,260.5 L250.8,260.7 L250.9,261.0 L251.1,261.3 L251.2,261.5 L251.4,261.8 L251.5,262.0 L251.7,262.3 L251.8,262.5 L252.0,262.8 L252.2,263.0 L252.3,263.3 L252.5,263.5 L252.6,263.8 L252.8,264.0 L252.9,264.3 L253.1,264.5 L253.3,264.7 L253.4,265.0 L253.6,265.2 L253.7,265.4 L253.9,265.7 L254.1,265.9 L254.2,266.1 L254.4,266.4 L254.6,266.6 L254.7,266.9 L254.9,267.1 L255.0,267.3 L255.2,267.6 M261.5,278.2 L261.7,278.4 L261.9,278.7 L262.1,278.9 L262.3,279.1 L262.5,279.4 L262.8,279.6 L263.0,279.8 L263.2,280.0 L263.5,280.3 L263.7,280.5 L263.9,280.7 L264.2,280.9 L264.4,281.1 L264.6,281.3 L264.9,281.5 L265.1,281.7 L265.3,281.9 L265.6,282.1 L265.8,282.3 L266.0,282.5 L266.2,282.7 L266.4,282.8 L266.6,283.0 L266.8,283.2 L267.0,283.3 L267.2,283.5 L267.4,283.6 L267.6,283.8 L267.8,283.9 L268.0,284.0 L268.2,284.2 L268.4,284.3 L268.6,284.4 L268.8,284.6 L269.0,284.7 L269.2,284.9 L269.4,285.0 L269.6,285.2 L269.8,285.3 L270.0,285.5 L270.2,285.7 L270.4,285.9 L270.7,286.0 L270.9,286.2 L271.1,286.4 L271.3,286.6 L271.6,286.8 L271.8,287.0 L272.0,287.2 L272.2,287.4 L272.5,287.6 L272.7,287.8 L272.9,288.0 L273.2,288.2 L273.4,288.4 L273.6,288.6 L273.8,288.8 L274.1,288.9 L274.3,289.1 L274.5,289.3 L274.7,289.5 L274.9,289.6 L275.1,289.8 L275.3,290.0 L275.5,290.2 L275.7,290.3 L275.9,290.5 L276.1,290.6 L276.3,290.8 L276.5,291.0 L276.7,291.1 L276.9,291.3 L277.1,291.4 L277.3,291.6 L277.5,291.7 L277.7,291.9 L277.9,292.0 L278.1,292.2 L278.3,292.3 L278.5,292.5 L278.7,292.6 L278.9,292.8 L279.1,292.9 L279.3,293.1 L279.6,293.2 L279.8,293.4 L280.0,293.5 M290.9,298.5 L291.1,298.6 L291.4,298.7 L291.7,298.8 L292.0,298.9 L292.3,299.0 L292.6,299.1 L292.9,299.2 L293.2,299.3 L293.5,299.3 L293.8,299.4 L294.1,299.5 L294.4,299.6 L294.7,299.7 L295.0,299.8 L295.3,299.9 L295.6,300.0 L296.0,300.1 L296.3,300.2 L296.7,300.3 L297.0,300.4 L297.3,300.5 L297.7,300.6 L298.0,300.7 L298.4,300.8 L298.7,300.9 L299.1,300.9 L299.4,301.0 L299.8,301.1 L300.1,301.2 L300.5,301.3 L300.8,301.4 L301.1,301.5 L301.5,301.6 L301.8,301.7 L302.1,301.8 L302.4,301.9 L302.8,302.0 L303.1,302.1 L303.4,302.2 L303.7,302.3 L304.0,302.3 L304.3,302.4 L304.6,302.5 L304.9,302.6 L305.2,302.7 L305.5,302.8 L305.8,302.9 L306.1,303.0 L306.4,303.1 L306.7,303.1 L307.0,303.2 L307.4,303.3 L307.7,303.4 L308.0,303.5 L308.3,303.6 L308.7,303.7 L309.0,303.8 L309.3,303.9 L309.7,303.9 L310.0,304.0 L310.4,304.1 L310.7,304.2 L311.1,304.3 L311.4,304.4 L311.8,304.5 L312.2,304.6 M322.4,306.6 L322.8,306.6 L323.1,306.7 L323.5,306.7 L323.9,306.8 L324.3,306.8 L324.7,306.9 L325.1,306.9 L325.5,307.0 L325.9,307.0 L326.3,307.1 L326.8,307.1 L327.2,307.2 L327.6,307.2 L328.0,307.3 L328.4,307.3 L328.8,307.4 L329.2,307.4 L329.6,307.5 L330.0,307.5 L330.4,307.5 L330.8,307.6 L331.2,307.6 L331.6,307.7 L332.0,307.7 L332.4,307.7 L332.8,307.8 L333.2,307.8 L333.6,307.8 L334.0,307.9 L334.4,307.9 L334.8,307.9 L335.2,308.0 L335.6,308.0 L336.0,308.0 L336.4,308.1 L336.8,308.1 L337.2,308.1 L337.6,308.2 L338.0,308.2 L338.4,308.2 L338.8,308.3 L339.2,308.3 L339.6,308.3 L340.0,308.3 L340.4,308.4 L340.8,308.4 L341.2,308.4 L341.6,308.4 L342.0,308.5 L342.4,308.5 L342.8,308.5 L343.2,308.5 L343.6,308.6 L344.0,308.6 L344.4,308.6 L344.8,308.6 L345.2,308.7 L345.6,308.7 M355.2,309.1 L355.6,309.1 L356.0,309.1 L356.4,309.1 L356.8,309.1 L357.2,309.2 L357.6,309.2 L358.0,309.2 L358.4,309.2 L358.8,309.3 L359.2,309.3 L359.6,309.3 L360.0,309.3 L360.4,309.4 L360.8,309.4 L361.2,309.4 L361.6,309.5 L362.0,309.5 L362.4,309.5 L362.8,309.6 L363.2,309.6 L363.6,309.6 L364.0,309.7 L364.4,309.7 L364.8,309.8 L365.2,309.8 L365.6,309.8 L366.0,309.9 L366.4,309.9 L366.8,310.0 L367.2,310.0 L367.6,310.0 L368.0,310.1 L368.4,310.1 L368.8,310.2 L369.2,310.2 L369.6,310.3 L370.0,310.3 L370.4,310.3 L370.8,310.4 L371.2,310.4 L371.6,310.5 L372.0,310.5 L372.4,310.6 L372.8,310.6 L373.1,310.6 L373.5,310.7 L373.9,310.7 L374.3,310.8 L374.7,310.8 L375.1,310.9 L375.5,310.9 L375.9,310.9 L376.3,311.0 L376.7,311.0 L377.2,311.1 L377.6,311.1 L378.0,311.2 M388.1,312.7 L388.6,312.8 L389.1,313.0 L389.6,313.1 L390.1,313.2 L390.6,313.3 L391.0,313.5 L391.5,313.6 L392.0,313.8 L392.5,313.9 L393.0,314.1 L393.4,314.2 L393.9,314.3 L394.4,314.5 L394.8,314.6 L395.3,314.7 L395.7,314.9 L396.1,315.0 L396.5,315.1 L396.9,315.2 L397.3,315.3 L397.6,315.4 L398.0,315.5 L398.3,315.6 L398.6,315.7 L399.0,315.8 L399.3,315.8 L399.6,315.9 L399.9,316.0 L400.2,316.1 L400.5,316.2 L400.8,316.2 L401.1,316.3 L401.4,316.4 L401.7,316.5 L402.0,316.6 L402.4,316.6 L402.7,316.7 L403.0,316.8 L403.3,316.9 L403.7,317.0 L404.0,317.0 L404.4,317.1 L404.7,317.2 L405.0,317.3 L405.4,317.4 L405.7,317.4 L406.1,317.5 L406.4,317.6 L406.8,317.7 L407.1,317.8 L407.5,317.8 L407.8,317.9 L408.1,318.0 L408.5,318.1 L408.8,318.2 L409.1,318.2 L409.5,318.3 L409.8,318.4 L410.1,318.5 L410.4,318.6 L410.8,318.6 L411.1,318.7 M421.1,321.1 L421.4,321.1 L421.8,321.2 L422.2,321.3 L422.6,321.3 L423.0,321.4 L423.4,321.5 L423.9,321.5 L424.4,321.6 L424.9,321.7 L425.4,321.8 L425.9,321.8 L426.5,321.9 L427.0,322.0 L427.5,322.1 L428.1,322.1 L428.6,322.2 L429.1,322.3 L429.6,322.3 L430.1,322.4 L430.6,322.5 L431.0,322.5 L431.4,322.6 L431.7,322.6 L432.0,322.7 L432.3,322.7" fill="none" stroke="#7049A8" stroke-width="3.2" stroke-linecap="round" stroke-linejoin="round"/><g fill="#2F98BE"><circle cx="63.3" cy="214.6" r="1.65"/><circle cx="63.3" cy="208.7" r="1.65"/><circle cx="63.3" cy="202.7" r="1.65"/><circle cx="63.5" cy="195.7" r="1.65"/><circle cx="64.2" cy="188.8" r="1.65"/><circle cx="64.6" cy="181.8" r="1.65"/><circle cx="65.2" cy="175.8" r="1.65"/><circle cx="65.8" cy="170.5" r="1.65"/><circle cx="67.0" cy="164.5" r="1.65"/><circle cx="68.5" cy="158.0" r="1.65"/><circle cx="70.6" cy="154.9" r="1.65"/><circle cx="71.9" cy="152.1" r="1.65"/><circle cx="73.2" cy="145.5" r="1.65"/><circle cx="74.9" cy="141.3" r="1.65"/><circle cx="76.6" cy="135.5" r="1.65"/><circle cx="79.5" cy="134.1" r="1.65"/><circle cx="84.6" cy="130.7" r="1.65"/><circle cx="89.3" cy="131.5" r="1.65"/><circle cx="94.0" cy="135.5" r="1.65"/><circle cx="98.9" cy="139.4" r="1.65"/><circle cx="103.6" cy="143.0" r="1.65"/><circle cx="108.4" cy="147.5" r="1.65"/><circle cx="113.3" cy="151.6" r="1.65"/><circle cx="118.8" cy="155.8" r="1.65"/><circle cx="124.0" cy="159.1" r="1.65"/><circle cx="130.1" cy="160.4" r="1.65"/><circle cx="136.3" cy="158.7" r="1.65"/><circle cx="141.8" cy="155.2" r="1.65"/><circle cx="146.7" cy="151.1" r="1.65"/><circle cx="151.5" cy="146.7" r="1.65"/><circle cx="156.1" cy="142.4" r="1.65"/><circle cx="160.9" cy="137.6" r="1.65"/><circle cx="166.2" cy="133.3" r="1.65"/><circle cx="171.5" cy="130.8" r="1.65"/><circle cx="177.9" cy="129.7" r="1.65"/><circle cx="183.6" cy="131.6" r="1.65"/><circle cx="188.9" cy="135.9" r="1.65"/><circle cx="193.4" cy="140.8" r="1.65"/><circle cx="197.0" cy="146.5" r="1.65"/><circle cx="200.5" cy="152.0" r="1.65"/><circle cx="203.3" cy="157.7" r="1.65"/><circle cx="206.2" cy="163.6" r="1.65"/><circle cx="208.5" cy="169.8" r="1.65"/><circle cx="211.4" cy="176.0" r="1.65"/><circle cx="213.6" cy="182.2" r="1.65"/><circle cx="216.2" cy="188.4" r="1.65"/><circle cx="218.4" cy="194.0" r="1.65"/><circle cx="220.8" cy="199.5" r="1.65"/><circle cx="223.6" cy="206.0" r="1.65"/><circle cx="226.4" cy="212.6" r="1.65"/><circle cx="229.1" cy="218.6" r="1.65"/><circle cx="231.9" cy="224.6" r="1.65"/><circle cx="234.5" cy="230.6" r="1.65"/><circle cx="237.1" cy="236.4" r="1.65"/><circle cx="239.6" cy="242.5" r="1.65"/><circle cx="242.8" cy="248.1" r="1.65"/><circle cx="245.5" cy="254.2" r="1.65"/><circle cx="248.9" cy="260.1" r="1.65"/><circle cx="250.9" cy="266.5" r="1.65"/><circle cx="255.2" cy="271.8" r="1.65"/><circle cx="258.4" cy="277.1" r="1.65"/><circle cx="262.6" cy="282.4" r="1.65"/><circle cx="266.8" cy="286.3" r="1.65"/><circle cx="272.5" cy="290.0" r="1.65"/><circle cx="278.6" cy="293.6" r="1.65"/><circle cx="284.3" cy="296.3" r="1.65"/><circle cx="290.4" cy="298.6" r="1.65"/><circle cx="295.9" cy="300.4" r="1.65"/><circle cx="301.3" cy="302.1" r="1.65"/><circle cx="307.5" cy="304.0" r="1.65"/><circle cx="312.9" cy="305.9" r="1.65"/><circle cx="319.2" cy="306.9" r="1.65"/><circle cx="325.0" cy="307.6" r="1.65"/><circle cx="331.1" cy="307.9" r="1.65"/><circle cx="336.9" cy="308.4" r="1.65"/><circle cx="342.7" cy="309.1" r="1.65"/><circle cx="348.6" cy="308.8" r="1.65"/><circle cx="354.1" cy="309.2" r="1.65"/><circle cx="358.6" cy="308.6" r="1.65"/><circle cx="363.6" cy="308.4" r="1.65"/><circle cx="369.5" cy="309.1" r="1.65"/><circle cx="375.9" cy="309.3" r="1.65"/><circle cx="381.4" cy="310.3" r="1.65"/><circle cx="387.0" cy="311.3" r="1.65"/><circle cx="393.2" cy="312.7" r="1.65"/><circle cx="399.1" cy="314.3" r="1.65"/><circle cx="405.5" cy="316.1" r="1.65"/><circle cx="411.4" cy="317.9" r="1.65"/><circle cx="417.7" cy="319.4" r="1.65"/><circle cx="423.2" cy="320.9" r="1.65"/><circle cx="429.1" cy="322.3" r="1.65"/></g><path d="M64.0,178.9 L64.0,179.5 L64.0,180.1 L64.0,180.8 L64.0,181.6 L64.0,182.4 L64.0,183.2 L63.9,184.0 L63.9,184.9 L63.9,185.8 L63.9,186.6 L63.9,187.5 L63.9,188.4 L63.9,189.2 L63.9,190.0 L63.9,190.8 L64.0,191.5 L64.0,192.1 L64.0,192.7 L64.0,193.2 M65.2,201.1 L65.3,201.4 L65.3,201.6 L65.4,201.8 L65.4,202.1 L65.5,202.3 L65.5,202.5 L65.6,202.7 L65.6,203.0 L65.7,203.2 L65.7,203.4 L65.8,203.7 L65.8,203.9 L65.9,204.2 L65.9,204.4 L66.0,204.7 L66.0,205.0 L66.0,205.3 L66.1,205.6 L66.1,205.9 L66.1,206.3 L66.1,206.6 L66.2,206.9 L66.2,207.3 L66.2,207.6 L66.2,208.0 L66.2,208.3 L66.2,208.7 L66.3,209.1 L66.3,209.4 L66.3,209.8 L66.3,210.2 L66.4,210.5 L66.4,210.9 L66.4,211.3 L66.5,211.6 L66.5,212.0 L66.6,212.4 L66.6,212.8 L66.7,213.3 L66.7,213.8 L66.8,214.3 L66.9,214.8 L66.9,215.3 L67.0,215.8 L67.1,216.3 L67.2,216.8 L67.2,217.3 L67.3,217.8 L67.4,218.2 L67.5,218.6 L67.5,218.9 L67.6,219.2 L67.7,219.4 L67.8,219.5 L67.8,219.6 L67.9,219.6 M71.0,185.2 l0.01,0 M73.9,171.9 L74.0,171.5 L74.1,171.1 L74.2,170.7 L74.3,170.3 L74.4,169.8 L74.5,169.3 L74.6,168.9 L74.7,168.4 L74.8,167.9 L74.9,167.5 L75.0,167.0 L75.1,166.5 L75.2,166.0 L75.3,165.5 L75.4,165.1 L75.5,164.6 L75.6,164.2 L75.7,163.7 L75.8,163.3 L75.9,162.9 M79.4,150.0 l0.01,0 M83.6,138.8 L83.7,138.5 L83.9,138.3 L84.0,138.0 L84.1,137.7 L84.2,137.5 L84.4,137.2 L84.5,137.0 L84.6,136.8 L84.7,136.5 L84.9,136.3 L85.0,136.1 L85.1,135.9 L85.2,135.6 L85.3,135.4 L85.5,135.2 L85.6,135.0 L85.7,134.8 L85.8,134.6 L86.0,134.4 L86.1,134.1 L86.2,133.9 L86.4,133.7 L86.5,133.5 L86.6,133.3 L86.8,133.1 L86.9,132.8 L87.0,132.6 L87.2,132.4 L87.3,132.2 L87.5,132.0 L87.6,131.8 L87.7,131.6 L87.9,131.4 L88.0,131.2 L88.2,130.9 L88.3,130.7 L88.5,130.5 L88.6,130.3 L88.8,130.1 L88.9,129.9 L89.1,129.6 L89.2,129.4 L89.4,129.2 M96.8,120.8 l0.01,0 M106.5,113.9 L106.6,113.8 L106.8,113.6 L107.0,113.5 L107.2,113.4 L107.4,113.2 L107.6,113.1 L107.8,112.9 L108.0,112.7 L108.2,112.6 L108.4,112.4 L108.6,112.2 L108.9,112.0 L109.1,111.8 L109.3,111.7 L109.5,111.5 L109.8,111.3 L110.0,111.1 L110.2,110.9 L110.4,110.7 L110.6,110.5 L110.9,110.4 L111.1,110.2 L111.3,110.0 L111.5,109.8 L111.7,109.7 L111.9,109.5 L112.1,109.3 L112.3,109.1 L112.6,108.9 L112.8,108.8 L113.0,108.6 L113.2,108.4 L113.4,108.2 L113.6,108.1 L113.8,107.9 L114.0,107.7 L114.2,107.5 L114.4,107.4 L114.6,107.2 L114.9,107.0 L115.1,106.8 L115.3,106.7 L115.5,106.5 M125.0,99.3 l0.01,0 M134.6,90.2 L134.8,90.0 L135.0,89.8 L135.3,89.7 L135.5,89.5 L135.7,89.4 L135.9,89.2 L136.1,89.1 L136.3,89.0 L136.6,88.8 L136.8,88.7 L137.0,88.6 L137.2,88.5 L137.4,88.4 L137.6,88.2 L137.9,88.1 L138.1,88.0 L138.3,87.9 L138.5,87.8 L138.8,87.6 L139.0,87.5 L139.2,87.4 L139.5,87.2 L139.7,87.1 L140.0,87.0 L140.2,86.8 L140.5,86.7 L140.7,86.5 L141.0,86.4 L141.2,86.3 L141.5,86.1 L141.7,86.0 L142.0,85.9 L142.2,85.7 L142.5,85.6 L142.8,85.5 L143.0,85.4 L143.3,85.2 L143.6,85.1 L143.8,85.0 L144.1,84.9 M155.8,83.2 l0.01,0 M167.0,86.6 L167.2,86.7 L167.5,86.9 L167.7,87.0 L167.9,87.2 L168.1,87.3 L168.3,87.5 L168.5,87.6 L168.7,87.8 L168.9,88.0 L169.1,88.1 L169.3,88.3 L169.5,88.5 L169.7,88.6 L169.9,88.8 L170.0,89.0 L170.2,89.1 L170.4,89.3 L170.6,89.5 L170.8,89.6 L171.0,89.8 L171.2,90.0 L171.4,90.1 L171.6,90.3 L171.8,90.5 L172.0,90.6 L172.2,90.8 L172.4,91.0 L172.6,91.1 L172.7,91.3 L172.9,91.5 L173.1,91.7 L173.3,91.8 L173.5,92.0 L173.7,92.2 L173.9,92.4 L174.1,92.6 L174.3,92.7 L174.6,92.9 L174.8,93.1 M184.2,101.1 l0.01,0 M192.7,110.0 L192.9,110.2 L193.1,110.5 L193.3,110.7 L193.5,110.9 L193.7,111.1 L193.9,111.4 L194.1,111.6 L194.3,111.8 L194.4,112.1 L194.6,112.3 L194.8,112.5 L195.0,112.7 L195.2,113.0 L195.4,113.2 L195.6,113.4 L195.8,113.6 L195.9,113.9 L196.1,114.1 L196.3,114.3 L196.5,114.5 L196.7,114.7 L196.9,114.9 L197.1,115.1 L197.2,115.3 L197.4,115.5 L197.6,115.7 L197.8,115.9 L198.0,116.1 L198.1,116.3 L198.3,116.5 L198.5,116.7 L198.7,116.9 L198.9,117.0 L199.0,117.2 L199.2,117.4 L199.4,117.6 L199.6,117.9 L199.7,118.1 L199.9,118.3 L200.1,118.5 M207.0,128.5 l0.01,0 M213.6,139.0 L213.8,139.3 L214.0,139.5 L214.1,139.8 L214.3,140.0 L214.4,140.3 L214.6,140.5 L214.7,140.8 L214.9,141.0 L215.0,141.2 L215.2,141.5 L215.3,141.7 L215.5,141.9 L215.6,142.2 L215.8,142.4 L215.9,142.6 L216.1,142.9 L216.2,143.1 L216.4,143.3 L216.5,143.5 L216.7,143.8 L216.8,144.0 L216.9,144.2 L217.1,144.4 L217.2,144.7 L217.4,144.9 L217.5,145.1 L217.6,145.3 L217.8,145.5 L217.9,145.7 L218.0,145.9 L218.2,146.1 L218.3,146.4 L218.4,146.6 L218.6,146.8 L218.7,147.0 L218.8,147.2 L219.0,147.4 L219.1,147.7 L219.2,147.9 L219.4,148.2 L219.5,148.4 L219.6,148.7 M224.4,160.0 l0.01,0 M229.7,171.1 L229.8,171.4 L230.0,171.7 L230.1,171.9 L230.3,172.2 L230.4,172.5 L230.5,172.8 L230.7,173.1 L230.8,173.3 L231.0,173.6 L231.1,173.9 L231.3,174.2 L231.4,174.4 L231.5,174.7 L231.7,175.0 L231.8,175.2 L232.0,175.5 L232.1,175.8 L232.2,176.0 L232.4,176.3 L232.5,176.5 L232.6,176.7 L232.8,177.0 L232.9,177.2 L233.0,177.4 L233.2,177.6 L233.3,177.8 L233.4,177.9 L233.5,178.1 L233.7,178.3 L233.8,178.5 L233.9,178.7 L234.0,178.9 L234.2,179.0 L234.3,179.2 L234.4,179.4 L234.5,179.7 L234.6,179.9 L234.8,180.1 L234.9,180.3 L235.0,180.6 M239.3,192.9 l0.01,0 M244.6,205.0 L244.7,205.3 L244.8,205.5 L245.0,205.8 L245.1,206.1 L245.2,206.3 L245.3,206.6 L245.5,206.8 L245.6,207.1 L245.7,207.3 L245.8,207.6 L245.9,207.8 L246.1,208.1 L246.2,208.3 L246.3,208.6 L246.4,208.8 L246.5,209.0 L246.7,209.3 L246.8,209.5 L246.9,209.8 L247.0,210.0 L247.1,210.2 L247.2,210.5 L247.3,210.7 L247.4,210.9 L247.6,211.2 L247.7,211.4 L247.8,211.6 L247.9,211.8 L248.0,212.0 L248.1,212.3 L248.2,212.5 L248.3,212.7 L248.4,212.9 L248.5,213.2 L248.6,213.4 L248.7,213.6 L248.8,213.9 L249.0,214.1 L249.1,214.3 L249.2,214.6 M254.7,225.6 l0.01,0 M260.5,237.5 L260.6,237.8 L260.8,238.0 L260.9,238.3 L261.1,238.5 L261.2,238.7 L261.3,239.0 L261.5,239.2 L261.6,239.4 L261.7,239.6 L261.9,239.8 L262.0,240.1 L262.1,240.3 L262.3,240.5 L262.4,240.7 L262.5,240.9 L262.7,241.1 L262.8,241.3 L262.9,241.6 L263.1,241.8 L263.2,242.0 L263.3,242.2 L263.5,242.4 L263.6,242.7 L263.7,242.9 L263.8,243.1 L264.0,243.3 L264.1,243.5 L264.2,243.7 L264.3,243.9 L264.5,244.1 L264.6,244.4 L264.7,244.6 L264.8,244.8 L265.0,245.0 L265.1,245.2 L265.2,245.5 L265.4,245.7 L265.5,245.9 L265.7,246.2 L265.8,246.4 M272.1,257.2 l0.01,0 M279.5,267.8 L279.7,268.0 L279.8,268.3 L280.0,268.5 L280.2,268.7 L280.4,268.9 L280.5,269.2 L280.7,269.4 L280.9,269.6 L281.0,269.8 L281.2,270.0 L281.4,270.2 L281.5,270.4 L281.7,270.6 L281.8,270.8 L282.0,271.0 L282.2,271.2 L282.3,271.4 L282.5,271.6 L282.6,271.8 L282.8,272.0 L283.0,272.2 L283.1,272.4 L283.3,272.6 L283.4,272.8 L283.5,272.9 L283.7,273.1 L283.8,273.3 L284.0,273.5 L284.1,273.7 L284.2,273.8 L284.4,274.0 L284.5,274.2 L284.7,274.4 L284.8,274.5 L285.0,274.7 L285.2,274.9 L285.3,275.1 L285.5,275.2 L285.7,275.4 L285.9,275.6 M296.5,282.0 l0.01,0 M307.1,287.7 L307.4,287.8 L307.6,287.9 L307.9,288.1 L308.2,288.2 L308.4,288.3 L308.7,288.4 L309.0,288.5 L309.2,288.7 L309.5,288.8 L309.8,288.9 L310.1,289.0 L310.3,289.1 L310.6,289.2 L310.9,289.3 L311.2,289.5 L311.4,289.6 L311.7,289.7 L312.0,289.8 L312.2,289.9 L312.5,290.0 L312.8,290.1 L313.0,290.2 L313.3,290.3 L313.6,290.4 L313.8,290.5 L314.1,290.6 L314.3,290.7 L314.6,290.8 L314.8,290.9 L315.1,291.0 L315.4,291.1 L315.6,291.2 L315.9,291.3 L316.1,291.4 L316.4,291.5 L316.7,291.6 L316.9,291.7 L317.2,291.8 M328.4,295.2 l0.01,0 M339.7,298.5 L340.0,298.6 L340.3,298.7 L340.5,298.7 L340.8,298.8 L341.1,298.8 L341.3,298.9 L341.6,298.9 L341.9,299.0 L342.1,299.0 L342.4,299.1 L342.6,299.1 L342.9,299.1 L343.1,299.2 L343.3,299.2 L343.6,299.3 L343.8,299.3 L344.1,299.3 L344.3,299.4 L344.5,299.4 L344.8,299.5 L345.0,299.5 L345.2,299.5 L345.5,299.6 L345.7,299.6 L345.9,299.7 L346.1,299.7 L346.3,299.7 L346.5,299.8 L346.8,299.8 L347.0,299.8 L347.2,299.9 L347.4,299.9 L347.6,299.9 L347.8,300.0 L348.0,300.0 L348.2,300.0 L348.4,300.1 L348.6,300.1 L348.9,300.1 L349.1,300.2 L349.3,300.2 L349.5,300.2 L349.8,300.3 L350.0,300.3 M359.2,301.8 l0.01,0 M370.8,303.1 L371.1,303.1 L371.3,303.2 L371.6,303.2 L371.9,303.2 L372.1,303.2 L372.4,303.2 L372.6,303.3 L372.9,303.3 L373.1,303.3 L373.4,303.3 L373.6,303.4 L373.9,303.4 L374.1,303.4 L374.4,303.4 L374.7,303.5 L374.9,303.5 L375.2,303.5 L375.5,303.5 L375.7,303.6 L376.0,303.6 L376.3,303.6 L376.6,303.7 L376.9,303.7 L377.2,303.7 L377.5,303.8 L377.8,303.8 L378.1,303.9 L378.4,303.9 L378.7,304.0 L379.0,304.0 L379.3,304.0 L379.6,304.1 L379.9,304.1 L380.2,304.2 L380.6,304.2 L380.9,304.2 L381.1,304.3 L381.4,304.3 L381.7,304.4 L382.0,304.4 M392.8,305.5 l0.01,0 M403.5,309.1 L403.8,309.2 L404.1,309.3 L404.3,309.3 L404.6,309.4 L404.9,309.5 L405.1,309.6 L405.4,309.6 L405.7,309.7 L405.9,309.7 L406.2,309.8 L406.4,309.9 L406.7,309.9 L406.9,310.0 L407.2,310.1 L407.4,310.1 L407.7,310.2 L408.0,310.2 L408.2,310.3 L408.5,310.4 L408.7,310.4 L409.0,310.5 L409.3,310.6 L409.5,310.6 L409.8,310.7 L410.1,310.8 L410.4,310.8 L410.6,310.9 L410.9,311.0 L411.2,311.0 L411.5,311.1 L411.7,311.1 L412.0,311.2 L412.3,311.3 L412.6,311.3 L412.8,311.4 L413.1,311.5 L413.4,311.5 L413.6,311.6 L413.9,311.7 L414.1,311.7 L414.4,311.8 L414.6,311.9 L414.9,311.9 M424.6,314.8 l0.01,0" fill="none" stroke="#E57B2C" stroke-width="3.1" stroke-linecap="round" stroke-linejoin="round"/><g font-family="Liberation Serif, serif" font-size="14.6" fill="#000"><text x="38.8" y="333.50" text-anchor="end">0</text><text x="38.8" y="279.75" text-anchor="end">0.1</text><text x="38.8" y="226.00" text-anchor="end">0.2</text><text x="38.8" y="172.25" text-anchor="end">0.3</text><text x="38.8" y="118.50" text-anchor="end">0.4</text><text x="38.8" y="64.75" text-anchor="end">0.5</text><text x="38.8" y="11.00" text-anchor="end">0.6</text><text x="51.50" y="351.8" text-anchor="middle">250</text><text x="178.10" y="351.8" text-anchor="middle">300</text><text x="304.70" y="351.8" text-anchor="middle">350</text><text x="431.30" y="351.8" text-anchor="middle">400</text></g><text x="241.6" y="372.6" text-anchor="middle" font-family="Liberation Serif, serif" font-weight="bold" font-size="15">Wavelength (nm)</text><text transform="translate(11.8,166.6) rotate(-90)" text-anchor="middle" font-family="Liberation Sans, sans-serif" font-weight="bold" font-size="12.5">Absorbance</text><line x1="428.7" y1="149.60" x2="466" y2="149.60" stroke="#000" stroke-width="3.3" stroke-linecap="round"/><text x="470.6" y="153.70" font-family="Liberation Serif, serif" font-weight="bold" font-size="14.8">4j, R = H</text><line x1="428.7" y1="172.78" x2="466" y2="172.78" stroke="#B93B3D" stroke-width="3.3" stroke-linecap="round"/><text x="470.6" y="177.10" font-family="Liberation Serif, serif" font-weight="bold" font-size="14.8">4k, R = F</text><line x1="428.7" y1="195.96" x2="466" y2="195.96" stroke="#88B04B" stroke-width="3.3" stroke-linecap="round"/><text x="470.6" y="200.50" font-family="Liberation Serif, serif" font-weight="bold" font-size="14.8">4l, R = OMe</text><path d="M428.7,219.14 H451.6 M464.4,219.14 H466" stroke="#7049A8" stroke-width="3.3" stroke-linecap="round"/><text x="470.6" y="223.90" font-family="Liberation Serif, serif" font-weight="bold" font-size="14.8">4j, R = H</text><g fill="#2F98BE"><circle cx="428.4" cy="242.32" r="1.65"/><circle cx="435.2" cy="242.32" r="1.65"/><circle cx="442.0" cy="242.32" r="1.65"/><circle cx="448.8" cy="242.32" r="1.65"/><circle cx="455.6" cy="242.32" r="1.65"/><circle cx="462.4" cy="242.32" r="1.65"/></g><text x="470.6" y="247.30" font-family="Liberation Serif, serif" font-weight="bold" font-size="14.8">4k, R = F</text><path d="M428.9,265.50 H438 M451.6,265.50 h0.01 M465.2,265.50 H466" stroke="#E57B2C" stroke-width="3.3" stroke-linecap="round"/><text x="470.6" y="270.70" font-family="Liberation Serif, serif" font-weight="bold" font-size="14.8">4l, R = OMe</text><g stroke="#3a3a3a" stroke-width="0.95" stroke-linecap="round"><line x1="234.00" y1="3.00" x2="249.00" y2="10.35"/><line x1="249.00" y1="10.35" x2="249.00" y2="25.05"/><line x1="249.00" y1="25.05" x2="234.00" y2="32.40"/><line x1="234.00" y1="32.40" x2="219.00" y2="25.05"/><line x1="219.00" y1="25.05" x2="219.00" y2="10.35"/><line x1="219.00" y1="10.35" x2="234.00" y2="3.00"/><line x1="221.90" y1="11.08" x2="233.30" y2="5.49"/><line x1="247.05" y1="12.11" x2="247.05" y2="23.29"/><line x1="233.30" y1="29.91" x2="221.90" y2="24.32"/><line x1="278.70" y1="24.80" x2="293.70" y2="32.15"/><line x1="293.70" y1="32.15" x2="293.70" y2="46.85"/><line x1="293.70" y1="46.85" x2="278.70" y2="54.20"/><line x1="278.70" y1="54.20" x2="263.70" y2="46.85"/><line x1="263.70" y1="46.85" x2="263.70" y2="32.15"/><line x1="263.70" y1="32.15" x2="278.70" y2="24.80"/><line x1="265.65" y1="45.09" x2="265.65" y2="33.91"/><line x1="279.40" y1="27.29" x2="290.80" y2="32.88"/><line x1="290.80" y1="46.12" x2="279.40" y2="51.71"/><line x1="249.00" y1="25.05" x2="263.70" y2="32.15"/><line x1="278.70" y1="69.40" x2="293.70" y2="76.75"/><line x1="293.70" y1="76.75" x2="293.70" y2="91.45"/><line x1="293.70" y1="91.45" x2="278.70" y2="98.80"/><line x1="278.70" y1="98.80" x2="263.70" y2="91.45"/><line x1="263.70" y1="91.45" x2="263.70" y2="76.75"/><line x1="263.70" y1="76.75" x2="278.70" y2="69.40"/><line x1="266.60" y1="77.48" x2="278.00" y2="71.89"/><line x1="291.75" y1="78.51" x2="291.75" y2="89.69"/><line x1="278.00" y1="96.31" x2="266.60" y2="90.72"/><line x1="278.70" y1="54.20" x2="278.70" y2="69.40"/><line x1="219.00" y1="10.35" x2="208.50" y2="4.60"/><line x1="278.70" y1="98.80" x2="278.70" y2="110.20"/><line x1="293.70" y1="32.15" x2="308.70" y2="24.80"/><line x1="307.60" y1="24.80" x2="307.60" y2="14.20"/><line x1="309.80" y1="24.80" x2="309.80" y2="14.20"/><line x1="308.70" y1="24.80" x2="320.83" y2="30.74"/><line x1="323.70" y1="35.75" x2="323.70" y2="46.85"/><line x1="323.70" y1="46.85" x2="311.39" y2="52.88"/><line x1="319.77" y1="46.35" x2="311.50" y2="50.40"/><line x1="306.01" y1="52.88" x2="293.70" y2="46.85"/><line x1="323.70" y1="46.85" x2="338.70" y2="54.20"/><line x1="338.70" y1="54.20" x2="353.40" y2="47.00"/><line x1="353.40" y1="47.00" x2="368.20" y2="54.20"/><line x1="368.20" y1="54.20" x2="383.10" y2="47.20"/><line x1="353.40" y1="47.00" x2="353.40" y2="32.40"/><line x1="353.40" y1="47.00" x2="349.40" y2="61.50"/><line x1="383.10" y1="47.20" x2="383.30" y2="62.40"/><line x1="398.20" y1="24.80" x2="413.20" y2="32.15"/><line x1="397.10" y1="24.80" x2="397.10" y2="14.20"/><line x1="399.30" y1="24.80" x2="399.30" y2="14.20"/><line x1="398.20" y1="24.80" x2="386.07" y2="30.74"/><line x1="383.18" y1="35.75" x2="383.10" y2="47.20"/><line x1="383.10" y1="47.20" x2="395.48" y2="52.94"/><line x1="400.89" y1="52.88" x2="413.20" y2="46.85"/><line x1="428.20" y1="24.80" x2="443.20" y2="32.15"/><line x1="443.20" y1="32.15" x2="443.20" y2="46.85"/><line x1="443.20" y1="46.85" x2="428.20" y2="54.20"/><line x1="428.20" y1="54.20" x2="413.20" y2="46.85"/><line x1="413.20" y1="46.85" x2="413.20" y2="32.15"/><line x1="413.20" y1="32.15" x2="428.20" y2="24.80"/><line x1="415.15" y1="45.09" x2="415.15" y2="33.91"/><line x1="428.90" y1="27.29" x2="440.30" y2="32.88"/><line x1="440.30" y1="46.12" x2="428.90" y2="51.71"/><line x1="473.20" y1="3.00" x2="488.20" y2="10.35"/><line x1="488.20" y1="10.35" x2="488.20" y2="25.05"/><line x1="488.20" y1="25.05" x2="473.20" y2="32.40"/><line x1="473.20" y1="32.40" x2="458.20" y2="25.05"/><line x1="458.20" y1="25.05" x2="458.20" y2="10.35"/><line x1="458.20" y1="10.35" x2="473.20" y2="3.00"/><line x1="461.10" y1="11.08" x2="472.50" y2="5.49"/><line x1="486.25" y1="12.11" x2="486.25" y2="23.29"/><line x1="472.50" y1="29.91" x2="461.10" y2="24.32"/><line x1="443.20" y1="32.15" x2="458.20" y2="25.05"/><line x1="488.20" y1="10.35" x2="498.80" y2="5.00"/><line x1="428.20" y1="69.40" x2="443.20" y2="76.75"/><line x1="443.20" y1="76.75" x2="443.20" y2="91.45"/><line x1="443.20" y1="91.45" x2="428.20" y2="98.80"/><line x1="428.20" y1="98.80" x2="413.20" y2="91.45"/><line x1="413.20" y1="91.45" x2="413.20" y2="76.75"/><line x1="413.20" y1="76.75" x2="428.20" y2="69.40"/><line x1="416.10" y1="77.48" x2="427.50" y2="71.89"/><line x1="441.25" y1="78.51" x2="441.25" y2="89.69"/><line x1="427.50" y1="96.31" x2="416.10" y2="90.72"/><line x1="428.20" y1="54.20" x2="428.20" y2="69.40"/><line x1="428.20" y1="98.80" x2="428.20" y2="110.20"/></g><g font-family="Liberation Serif, serif" fill="#3a3a3a"><text x="204.3" y="6.2" text-anchor="middle" font-size="6.8">R</text><text x="278.7" y="116.8" text-anchor="middle" font-size="6.8">R</text><text x="308.7" y="13.1" text-anchor="middle" font-size="7.2">O</text><text x="321.4" y="35.1" text-anchor="start" font-size="6.6">NH</text><text x="308.7" y="57.6" text-anchor="middle" font-size="6.8">N</text><text x="398.2" y="13.1" text-anchor="middle" font-size="7.2">O</text><text x="385.6" y="35.1" text-anchor="end" font-size="6.6">HN</text><text x="398.2" y="57.4" text-anchor="middle" font-size="6.8">N</text><text x="398.2" y="62.8" text-anchor="middle" font-size="5.5">H</text><text x="502.6" y="6.2" text-anchor="middle" font-size="6.8">R</text><text x="428.2" y="116.8" text-anchor="middle" font-size="6.8">R</text></g></svg></body></html>
